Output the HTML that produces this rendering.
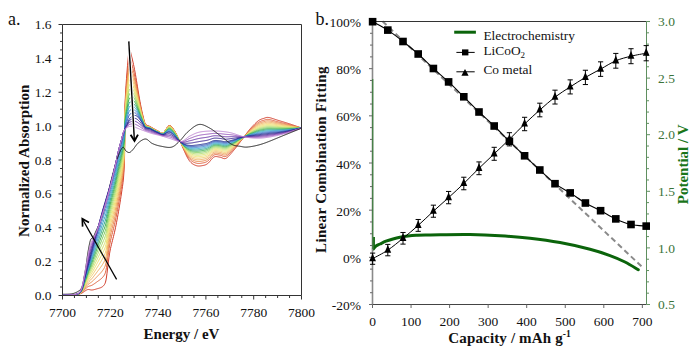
<!DOCTYPE html><html><head><meta charset="utf-8"><style>html,body{margin:0;padding:0;background:#fff;width:700px;height:359px;overflow:hidden}svg{display:block}text{font-family:"Liberation Serif",serif}</style></head><body>
<svg width="700" height="359" viewBox="0 0 700 359">
<rect width="700" height="359" fill="#fff"/>
<g fill="none" stroke-width="1" stroke-linejoin="round">
<path d="M62.5,294.3 62.78,294.29 63.11,294.28 63.5,294.27 63.93,294.27 64.39,294.26 64.89,294.26 65.42,294.25 65.97,294.24 66.54,294.23 67.12,294.22 67.71,294.2 68.3,294.17 68.88,294.14 69.46,294.11 70.02,294.06 70.56,294.01 71.07,293.95 71.55,293.88 72,293.8 72.55,293.68 73.1,293.54 73.63,293.39 74.14,293.23 74.65,293.06 75.14,292.88 75.62,292.68 76.08,292.48 76.53,292.27 76.96,292.05 77.38,291.82 77.78,291.59 78.16,291.36 78.53,291.12 78.93,290.84 79.36,290.53 79.74,290.24 80.09,289.95 80.4,289.64 80.7,289.31 80.97,288.94 81.23,288.52 81.48,288.03 81.74,287.46 82,286.8 82.13,286.44 82.25,286.06 82.37,285.66 82.49,285.23 82.6,284.78 82.72,284.31 82.83,283.82 82.94,283.33 83.04,282.81 83.15,282.29 83.25,281.76 83.35,281.23 83.45,280.69 83.55,280.15 83.65,279.6 83.74,279.07 83.84,278.53 83.93,278 84.02,277.49 84.12,276.98 84.21,276.48 84.3,276 84.4,275.49 84.49,274.99 84.58,274.49 84.67,274.01 84.76,273.54 84.84,273.07 84.93,272.6 85.01,272.13 85.09,271.67 85.17,271.2 85.25,270.73 85.33,270.25 85.41,269.76 85.49,269.27 85.57,268.76 85.65,268.24 85.73,267.71 85.82,267.16 85.91,266.59 86,266 86.07,265.57 86.13,265.12 86.2,264.66 86.27,264.19 86.33,263.71 86.4,263.23 86.47,262.73 86.53,262.23 86.6,261.73 86.67,261.21 86.74,260.7 86.81,260.17 86.88,259.65 86.95,259.12 87.02,258.6 87.09,258.07 87.16,257.54 87.24,257.02 87.31,256.49 87.38,255.97 87.46,255.45 87.53,254.94 87.61,254.43 87.69,253.93 87.76,253.44 87.84,252.95 87.92,252.47 88,252 88.09,251.46 88.19,250.92 88.28,250.37 88.38,249.82 88.48,249.26 88.58,248.7 88.68,248.15 88.78,247.59 88.88,247.04 88.98,246.49 89.09,245.94 89.19,245.41 89.3,244.88 89.4,244.37 89.51,243.86 89.61,243.37 89.72,242.9 89.82,242.44 89.93,242.01 90.03,241.59 90.14,241.19 90.24,240.82 90.35,240.47 90.45,240.15 90.69,239.51 91.07,238.88 91.44,238.57 91.81,238.44 92.19,238.33 92.59,238.1 93,237.6 93.19,237.27 93.38,236.93 93.56,236.58 93.74,236.21 93.92,235.82 94.1,235.4 94.29,234.96 94.49,234.5 94.7,234 94.92,233.47 95.16,232.91 95.42,232.32 95.7,231.68 96,231 96.16,230.64 96.33,230.27 96.51,229.89 96.7,229.5 96.89,229.09 97.09,228.67 97.29,228.25 97.5,227.81 97.71,227.37 97.93,226.91 98.15,226.45 98.37,225.98 98.6,225.51 98.82,225.03 99.05,224.54 99.28,224.05 99.51,223.55 99.73,223.05 99.96,222.55 100.18,222.05 100.4,221.54 100.61,221.03 100.82,220.53 101.03,220.02 101.23,219.51 101.43,219.01 101.62,218.5 101.8,218 101.96,217.55 102.11,217.1 102.27,216.66 102.41,216.21 102.56,215.77 102.7,215.33 102.84,214.89 102.98,214.44 103.11,214 103.25,213.56 103.38,213.11 103.51,212.66 103.63,212.21 103.76,211.75 103.89,211.29 104.01,210.83 104.14,210.36 104.26,209.89 104.39,209.41 104.52,208.92 104.64,208.43 104.77,207.93 104.9,207.42 105.03,206.9 105.16,206.37 105.29,205.84 105.43,205.29 105.57,204.74 105.71,204.17 105.85,203.59 106,203 106.1,202.59 106.21,202.16 106.31,201.73 106.41,201.3 106.52,200.86 106.62,200.41 106.73,199.96 106.83,199.5 106.94,199.03 107.04,198.56 107.15,198.09 107.26,197.61 107.36,197.13 107.47,196.64 107.58,196.15 107.69,195.65 107.79,195.16 107.9,194.66 108.01,194.15 108.12,193.65 108.23,193.14 108.34,192.63 108.46,192.12 108.57,191.61 108.68,191.09 108.79,190.58 108.9,190.06 109.02,189.55 109.13,189.03 109.24,188.52 109.36,188 109.47,187.49 109.59,186.98 109.7,186.47 109.82,185.96 109.94,185.45 110.05,184.94 110.17,184.44 110.29,183.94 110.4,183.44 110.52,182.94 110.64,182.45 110.76,181.96 110.88,181.48 111,181 111.12,180.5 111.25,180 111.38,179.5 111.5,179 111.63,178.49 111.76,177.98 111.89,177.47 112.02,176.96 112.15,176.44 112.28,175.93 112.41,175.41 112.55,174.9 112.68,174.38 112.81,173.87 112.95,173.35 113.08,172.83 113.22,172.32 113.35,171.81 113.49,171.3 113.62,170.79 113.76,170.28 113.9,169.77 114.03,169.27 114.17,168.77 114.31,168.28 114.44,167.78 114.58,167.29 114.72,166.81 114.85,166.33 114.99,165.85 115.12,165.38 115.26,164.91 115.4,164.45 115.53,163.99 115.67,163.54 115.8,163.1 115.94,162.66 116.07,162.23 116.2,161.81 116.34,161.39 116.47,160.99 116.6,160.59 116.73,160.19 116.91,159.69 117.12,159.07 117.33,158.46 117.55,157.85 117.77,157.25 117.99,156.66 118.21,156.07 118.43,155.49 118.65,154.92 118.87,154.37" stroke="#1a1a1a" stroke-width="1"/>
<path d="M62.5,295.3 63,295.29 63.5,295.27 64,295.26 64.5,295.25 65,295.23 65.5,295.22 66,295.21 66.5,295.19 67,295.18 67.5,295.16 68,295.15 68.5,295.13 69,295.12 69.5,295.1 70,295.08 70.5,295.07 71,295.05 71.5,295.02 72,295 72.5,294.97 73,294.95 73.5,294.93 74,294.9 74.5,294.88 75,294.85 75.5,294.81 76,294.77 76.5,294.73 77,294.66 77.5,294.59 78,294.5 78.5,294.39 79,294.26 79.5,294.1 80,293.92 80.5,293.71 81,293.49 81.5,293.25 82,293 82.5,292.72 83,292.4 83.5,292.05 84,291.68 84.5,291.32 85,291 85.5,290.69 86,290.37 86.5,290.06 87,289.8 87.5,289.61 88,289.5 88.5,289.48 89,289.54 89.5,289.64 90,289.76 90.5,289.87 91,289.96 91.5,290.01 92,290 92.5,289.95 93,289.87 93.5,289.77 94,289.65 94.5,289.53 95,289.39 95.5,289.25 96,289.1 96.5,288.95 97,288.8 97.5,288.65 98,288.51 98.5,288.38 99,288.23 99.5,288.08 100,287.92 100.5,287.74 101,287.54 101.5,287.29 102,287 102.5,286.65 103,286.25 103.5,285.78 104,285.2 104.5,284.47 105,283.5 105.5,282.15 106,279.99 106.5,277 107,273.3 107.5,268.98 108,265 108.5,261.09 109,257.21 109.5,253.87 110,251.03 110.5,248.56 111,246.36 111.5,244.29 112,242.28 112.5,240.31 113,238.35 113.5,236.36 114,234.34 114.5,232.23 115,230 115.5,227.63 116,225.16 116.5,222.61 117,219.98 117.5,217.28 118,214.51 118.5,211.7 119,208.85 119.5,205.91 120,202.84 120.5,199.66 121,196.37 121.5,193 122,189.66 122.5,186.3 123,182.62 123.5,178 124,170.97 124.5,160 125,105 125.5,94.07 126,85.78 126.5,78.53 127,72 127.5,65.78 128,59.9 128.5,54.93 129,51.39 129.5,49.8 130,50.12 130.5,51.79 131,53.96 131.5,56 132,57.92 132.5,59.97 133,62.14 133.5,64.44 134,66.85 134.5,69.37 135,72 135.5,74.78 136,77.7 136.5,80.71 137,83.77 137.5,86.85 138,89.93 138.5,92.99 139,95.98 139.5,98.88 140,101.64 140.5,104.29 141,106.85 141.5,109.31 142,111.65 142.5,113.88 143,116 143.5,118.12 144,120.19 144.5,121.9 145,123.12 145.5,124 146,124.62 146.5,125.03 147,125.31 147.5,125.5 148,125.67 148.5,125.83 149,126.02 149.5,126.24 150,126.5 150.5,126.78 151,127.07 151.5,127.36 152,127.64 152.5,127.93 153,128.22 153.5,128.51 154,128.8 154.5,129.09 155,129.37 155.5,129.65 156,129.93 156.5,130.21 157,130.48 157.5,130.74 158,131 158.5,131.27 159,131.59 159.5,131.94 160,132.31 160.5,132.67 161,132.96 161.5,133.16 162,133.24 162.5,133.18 163,133 163.5,132.65 164,132.13 164.5,131.5 165,130.79 165.5,130.02 166,129.24 166.5,128.46 167,127.71 167.5,127.01 168,126.41 168.5,125.93 169,125.63 169.5,125.53 170,125.58 170.5,125.76 171,126.1 171.5,126.57 172,127.15 172.5,127.81 173,128.53 173.5,129.27 174,130 174.5,130.76 175,131.57 175.5,132.44 176,133.36 176.5,134.31 177,135.29 177.5,136.3 178,137.31 178.5,138.34 179,139.36 179.5,140.38 180,141.4 180.5,142.44 181,143.52 181.5,144.63 182,145.77 182.5,146.91 183,148.06 183.5,149.2 184,150.35 184.5,151.48 185,152.59 185.5,153.69 186,154.76 186.5,155.8 187,156.79 187.5,157.74 188,158.63 188.5,159.45 189,160.19 189.5,160.87 190,161.49 190.5,162.05 191,162.56 191.5,163.02 192,163.43 192.5,163.8 193,164.12 193.5,164.41 194,164.67 194.5,164.91 195,165.13 195.5,165.34 196,165.54 196.5,165.71 197,165.84 197.5,165.93 198,165.99 198.5,166.02 199,166.03 199.5,166.01 200,165.97 200.5,165.92 201,165.85 201.5,165.77 202,165.68 202.5,165.59 203,165.5 203.5,165.4 204,165.29 204.5,165.17 205,165.01 205.5,164.82 206,164.59 206.5,164.33 207,164.02 207.5,163.67 208,163.3 208.5,162.86 209,162.35 209.5,161.77 210,161.17 210.5,160.54 211,159.91 211.5,159.3 212,158.72 212.5,158.18 213,157.71 213.5,157.31 214,157 214.5,156.79 215,156.65 215.5,156.57 216,156.55 216.5,156.57 217,156.63 217.5,156.71 218,156.81 218.5,156.92 219,157.02 219.5,157.11 220,157.19 220.5,157.27 221,157.42 221.5,157.61 222,157.85 222.5,158.09 223,158.31 223.5,158.49 224,158.62 224.5,158.67 225,158.63 225.5,158.51 226,158.3 226.5,158 227,157.64 227.5,157.22 228,156.77 228.5,156.29 229,155.77 229.5,155.24 230,154.69 230.5,154.12 231,153.54 231.5,152.96 232,152.36 232.5,151.76 233,151.17 233.5,150.58 234,150 234.5,149.42 235,148.82 235.5,148.2 236,147.55 236.5,146.89 237,146.21 237.5,145.52 238,144.84 238.5,144.16 239,143.5 239.5,142.85 240,142.2 240.5,141.56 241,140.91 241.5,140.26 242,139.61 242.5,138.96 243,138.31 243.5,137.66 244,137 244.5,136.33 245,135.64 245.5,134.94 246,134.24 246.5,133.53 247,132.83 247.5,132.15 248,131.48 248.5,130.82 249,130.19 249.5,129.58 250,129 250.5,128.43 251,127.87 251.5,127.32 252,126.77 252.5,126.24 253,125.71 253.5,125.18 254,124.67 254.5,124.16 255,123.67 255.5,123.19 256,122.71 256.5,122.26 257,121.82 257.5,121.4 258,121 258.5,120.64 259,120.3 259.5,120 260,119.73 260.5,119.49 261,119.28 261.5,119.09 262,118.92 262.5,118.76 263,118.61 263.5,118.46 264,118.3 264.5,118.13 265,117.94 265.5,117.76 266,117.6 266.5,117.48 267,117.42 267.5,117.4 268,117.42 268.5,117.47 269,117.55 269.5,117.64 270,117.76 270.5,117.89 271,118.03 271.5,118.18 272,118.33 272.5,118.49 273,118.65 273.5,118.82 274,118.99 274.5,119.16 275,119.33 275.5,119.49 276,119.66 276.5,119.82 277,119.99 277.5,120.15 278,120.3 278.5,120.45 279,120.6 279.5,120.76 280,120.91 280.5,121.06 281,121.21 281.5,121.36 282,121.51 282.5,121.66 283,121.81 283.5,121.96 284,122.12 284.5,122.27 285,122.42 285.5,122.58 286,122.73 286.5,122.89 287,123.04 287.5,123.2 288,123.36 288.5,123.52 289,123.68 289.5,123.84 290,124 290.5,124.16 291,124.33 291.5,124.5 292,124.67 292.5,124.84 293,125.01 293.5,125.18 294,125.36 294.5,125.53 295,125.7 295.5,125.88 296,126.06 296.5,126.23 297,126.41 297.5,126.58 298,126.76 298.5,126.94 299,127.12 299.5,127.29 300,127.47 300.5,127.65 301,127.82 301.5,128" stroke="#d23c2a"/>
<path d="M62.5,295.3 63,295.28 63.5,295.27 64,295.26 64.5,295.24 65,295.23 65.5,295.22 66,295.2 66.5,295.19 67,295.18 67.5,295.16 68,295.15 68.5,295.13 69,295.11 69.5,295.1 70,295.08 70.5,295.06 71,295.04 71.5,295.01 72,294.99 72.5,294.96 73,294.93 73.5,294.91 74,294.88 74.5,294.85 75,294.81 75.5,294.77 76,294.73 76.5,294.67 77,294.6 77.5,294.52 78,294.42 78.5,294.29 79,294.14 79.5,293.95 80,293.73 80.5,293.48 81,293.19 81.5,292.86 82,292.49 82.5,292.06 83,291.57 83.5,291.01 84,290.41 84.5,289.83 85,289.3 85.5,288.8 86,288.28 86.5,287.78 87,287.32 87.5,286.93 88,286.6 88.5,286.36 89,286.18 89.5,286.04 90,285.92 90.5,285.78 91,285.63 91.5,285.44 92,285.2 92.5,284.93 93,284.63 93.5,284.31 94,283.98 94.5,283.64 95,283.29 95.5,282.93 96,282.57 96.5,282.21 97,281.85 97.5,281.49 98,281.14 98.5,280.78 99,280.43 99.5,280.07 100,279.7 100.5,279.31 101,278.9 101.5,278.47 102,277.99 102.5,277.46 103,276.9 103.5,276.27 104,275.56 104.5,274.72 105,273.67 105.5,272.28 106,270.18 106.5,267.35 107,263.9 107.5,259.9 108,256.2 108.5,252.57 109,248.95 109.5,245.8 110,243.1 110.5,240.72 111,238.57 111.5,236.52 112,234.53 112.5,232.56 113,230.59 113.5,228.6 114,226.57 114.5,224.47 115,222.25 115.5,219.9 116,217.47 116.5,214.95 117,212.36 117.5,209.71 118,207.01 118.5,204.28 119,201.53 119.5,198.72 120,195.81 120.5,192.81 121,189.71 121.5,186.54 122,183.37 122.5,180.17 123,176.71 123.5,172.46 124,166.13 124.5,156.4 125,107.88 125.5,98.14 126,90.72 126.5,84.2 127,78.33 127.5,72.71 128,67.4 128.5,62.89 129,59.65 129.5,58.14 130,58.34 130.5,59.76 131,61.62 131.5,63.37 132,65.03 132.5,66.82 133,68.69 133.5,70.66 134,72.75 134.5,74.95 135,77.26 135.5,79.71 136,82.3 136.5,84.97 137,87.7 137.5,90.46 138,93.23 138.5,95.98 139,98.69 139.5,101.32 140,103.82 140.5,106.24 141,108.58 141.5,110.83 142,112.99 142.5,115.04 143,116.99 143.5,118.95 144,120.88 144.5,122.47 145,123.61 145.5,124.43 146,125.01 146.5,125.4 147,125.66 147.5,125.84 148,125.99 148.5,126.15 149,126.32 149.5,126.53 150,126.77 150.5,127.05 151,127.34 151.5,127.62 152,127.91 152.5,128.19 153,128.48 153.5,128.76 154,129.05 154.5,129.33 155,129.61 155.5,129.89 156,130.16 156.5,130.4 157,130.64 157.5,130.88 158,131.12 158.5,131.37 159,131.68 159.5,132.01 160,132.37 160.5,132.71 161,133 161.5,133.2 162,133.27 162.5,133.22 163,133.03 163.5,132.69 164,132.17 164.5,131.54 165,130.83 165.5,130.07 166,129.29 166.5,128.52 167,127.77 167.5,127.08 168,126.48 168.5,126 169,125.71 169.5,125.61 170,125.66 170.5,125.85 171,126.18 171.5,126.65 172,127.23 172.5,127.9 173,128.62 173.5,129.36 174,130.1 174.5,130.86 175,131.68 175.5,132.55 176,133.47 176.5,134.42 177,135.4 177.5,136.4 178,137.41 178.5,138.42 179,139.42 179.5,140.42 180,141.41 180.5,142.4 181,143.41 181.5,144.43 182,145.43 182.5,146.48 183,147.52 183.5,148.56 184,149.59 184.5,150.61 185,151.6 185.5,152.59 186,153.54 186.5,154.47 187,155.36 187.5,156.21 188,157 188.5,157.73 189,158.39 189.5,158.99 190,159.54 190.5,160.05 191,160.5 191.5,160.9 192,161.26 192.5,161.58 193,161.86 193.5,162.11 194,162.33 194.5,162.53 195,162.72 195.5,162.9 196,163.07 196.5,163.21 197,163.32 197.5,163.39 198,163.44 198.5,163.45 199,163.45 199.5,163.42 200,163.38 200.5,163.33 201,163.26 201.5,163.18 202,163.09 202.5,163 203,162.91 203.5,162.81 204,162.71 204.5,162.59 205,162.44 205.5,162.26 206,162.05 206.5,161.8 207,161.51 207.5,161.19 208,160.84 208.5,160.44 209,159.96 209.5,159.43 210,158.87 210.5,158.29 211,157.71 211.5,157.14 212,156.6 212.5,156.11 213,155.67 213.5,155.3 214,155.02 214.5,154.82 215,154.69 215.5,154.62 216,154.61 216.5,154.63 217,154.68 217.5,154.76 218,154.85 218.5,154.95 219,155.05 219.5,155.14 220,155.21 220.5,155.29 221,155.43 221.5,155.61 222,155.83 222.5,156.06 223,156.27 223.5,156.44 224,156.56 224.5,156.61 225,156.58 225.5,156.48 226,156.29 226.5,156.02 227,155.69 227.5,155.31 228,154.9 228.5,154.46 229,153.99 229.5,153.51 230,153 230.5,152.49 231,151.96 231.5,151.43 232,150.89 232.5,150.35 233,149.81 233.5,149.28 234,148.75 234.5,148.23 235,147.69 235.5,147.12 236,146.53 236.5,145.92 237,145.3 237.5,144.67 238,144.04 238.5,143.43 239,142.83 239.5,142.24 240,141.66 240.5,141.07 241,140.49 241.5,139.91 242,139.33 242.5,138.74 243,138.16 243.5,137.57 244,136.98 244.5,136.38 245,135.77 245.5,135.14 246,134.51 246.5,133.88 247,133.26 247.5,132.65 248,132.06 248.5,131.47 249,130.91 249.5,130.37 250,129.85 250.5,129.34 251,128.84 251.5,128.35 252,127.86 252.5,127.38 253,126.9 253.5,126.43 254,125.97 254.5,125.52 255,125.08 255.5,124.64 256,124.22 256.5,123.81 257,123.41 257.5,123.03 258,122.68 258.5,122.35 259,122.05 259.5,121.77 260,121.53 260.5,121.31 261,121.12 261.5,120.94 262,120.78 262.5,120.64 263,120.5 263.5,120.36 264,120.21 264.5,120.05 265,119.88 265.5,119.71 266,119.55 266.5,119.44 267,119.38 267.5,119.36 268,119.37 268.5,119.41 269,119.47 269.5,119.55 270,119.65 270.5,119.75 271,119.87 271.5,120 272,120.13 272.5,120.26 273,120.4 273.5,120.54 274,120.68 274.5,120.83 275,120.97 275.5,121.11 276,121.25 276.5,121.39 277,121.52 277.5,121.66 278,121.79 278.5,121.91 279,122.04 279.5,122.16 280,122.29 280.5,122.41 281,122.54 281.5,122.66 282,122.79 282.5,122.91 283,123.03 283.5,123.16 284,123.28 284.5,123.41 285,123.53 285.5,123.66 286,123.78 286.5,123.91 287,124.03 287.5,124.16 288,124.29 288.5,124.42 289,124.54 289.5,124.67 290,124.8 290.5,124.94 291,125.07 291.5,125.2 292,125.34 292.5,125.48 293,125.61 293.5,125.75 294,125.89 294.5,126.03 295,126.17 295.5,126.31 296,126.45 296.5,126.59 297,126.73 297.5,126.87 298,127.01 298.5,127.15 299,127.29 299.5,127.44 300,127.58 300.5,127.72 301,127.86 301.5,128" stroke="#e0603c"/>
<path d="M62.5,295.3 63,295.28 63.5,295.27 64,295.26 64.5,295.24 65,295.23 65.5,295.22 66,295.2 66.5,295.19 67,295.17 67.5,295.16 68,295.14 68.5,295.13 69,295.11 69.5,295.09 70,295.07 70.5,295.05 71,295.03 71.5,295.01 72,294.98 72.5,294.95 73,294.92 73.5,294.89 74,294.86 74.5,294.82 75,294.79 75.5,294.74 76,294.69 76.5,294.63 77,294.56 77.5,294.46 78,294.35 78.5,294.21 79,294.05 79.5,293.85 80,293.6 80.5,293.3 81,292.96 81.5,292.57 82,292.11 82.5,291.57 83,290.95 83.5,290.25 84,289.47 84.5,288.73 85,288.05 85.5,287.39 86,286.73 86.5,286.09 87,285.49 87.5,284.94 88,284.45 88.5,284.04 89,283.69 89.5,283.37 90,283.07 90.5,282.75 91,282.42 91.5,282.06 92,281.65 92.5,281.21 93,280.74 93.5,280.27 94,279.78 94.5,279.28 95,278.77 95.5,278.25 96,277.74 96.5,277.22 97,276.69 97.5,276.18 98,275.67 98.5,275.16 99,274.64 99.5,274.13 100,273.6 100.5,273.06 101,272.51 101.5,271.93 102,271.31 102.5,270.65 103,269.96 103.5,269.23 104,268.42 104.5,267.49 105,266.39 105.5,264.97 106,262.92 106.5,260.2 107,256.93 107.5,253.17 108,249.68 108.5,246.25 109,242.83 109.5,239.83 110,237.22 110.5,234.91 111,232.79 111.5,230.76 112,228.78 112.5,226.81 113,224.84 113.5,222.85 114,220.81 114.5,218.71 115,216.51 115.5,214.18 116,211.77 116.5,209.27 117,206.71 117.5,204.1 118,201.45 118.5,198.78 119,196.11 119.5,193.39 120,190.6 120.5,187.73 121,184.78 121.5,181.75 122,178.71 122.5,175.63 123,172.33 123.5,168.35 124,162.54 124.5,153.74 125,110.02 125.5,101.15 126,94.38 126.5,88.41 127,83.01 127.5,77.85 128,72.96 128.5,68.79 129,65.76 129.5,64.32 130,64.44 130.5,65.65 131,67.29 131.5,68.84 132,70.3 132.5,71.89 133,73.54 133.5,75.27 134,77.12 134.5,79.08 135,81.15 135.5,83.36 136,85.7 136.5,88.13 137,90.62 137.5,93.13 138,95.67 138.5,98.2 139,100.7 139.5,103.12 140,105.44 140.5,107.68 141,109.86 141.5,111.96 142,113.98 142.5,115.89 143,117.73 143.5,119.57 144,121.39 144.5,122.89 145,123.98 145.5,124.76 146,125.31 146.5,125.67 147,125.92 147.5,126.09 148,126.24 148.5,126.38 149,126.55 149.5,126.74 150,126.97 150.5,127.25 151,127.53 151.5,127.82 152,128.1 152.5,128.39 153,128.67 153.5,128.95 154,129.23 154.5,129.51 155,129.78 155.5,130.06 156,130.33 156.5,130.56 157,130.79 157.5,131.01 158,131.24 158.5,131.48 159,131.77 159.5,132.1 160,132.45 160.5,132.78 161,133.06 161.5,133.26 162,133.33 162.5,133.27 163,133.09 163.5,132.75 164,132.25 164.5,131.63 165,130.93 165.5,130.18 166,129.41 166.5,128.64 167,127.9 167.5,127.22 168,126.63 168.5,126.16 169,125.88 169.5,125.78 170,125.83 170.5,126.02 171,126.36 171.5,126.83 172,127.42 172.5,128.08 173,128.8 173.5,129.54 174,130.28 174.5,131.04 175,131.85 175.5,132.72 176,133.64 176.5,134.58 177,135.55 177.5,136.54 178,137.53 178.5,138.52 179,139.5 179.5,140.47 180,141.41 180.5,142.36 181,143.31 181.5,144.26 182,145.19 182.5,146.16 183,147.12 183.5,148.08 184,149.03 184.5,149.96 185,150.87 185.5,151.77 186,152.64 186.5,153.49 187,154.3 187.5,155.07 188,155.79 188.5,156.45 189,157.05 189.5,157.6 190,158.1 190.5,158.56 191,158.97 191.5,159.33 192,159.65 192.5,159.94 193,160.18 193.5,160.4 194,160.6 194.5,160.77 195,160.93 195.5,161.09 196,161.24 196.5,161.36 197,161.45 197.5,161.51 198,161.54 198.5,161.55 199,161.54 199.5,161.51 200,161.46 200.5,161.4 201,161.33 201.5,161.25 202,161.17 202.5,161.08 203,160.99 203.5,160.9 204,160.79 204.5,160.68 205,160.54 205.5,160.37 206,160.16 206.5,159.93 207,159.65 207.5,159.35 208,159.02 208.5,158.64 209,158.19 209.5,157.69 210,157.16 210.5,156.62 211,156.07 211.5,155.54 212,155.04 212.5,154.57 213,154.16 213.5,153.81 214,153.54 214.5,153.36 215,153.24 215.5,153.18 216,153.16 216.5,153.18 217,153.23 217.5,153.31 218,153.4 218.5,153.49 219,153.59 219.5,153.67 220,153.74 220.5,153.82 221,153.95 221.5,154.13 222,154.34 222.5,154.55 223,154.75 223.5,154.92 224,155.03 224.5,155.08 225,155.06 225.5,154.97 226,154.79 226.5,154.55 227,154.24 227.5,153.89 228,153.51 228.5,153.1 229,152.67 229.5,152.22 230,151.75 230.5,151.28 231,150.79 231.5,150.3 232,149.8 232.5,149.3 233,148.8 233.5,148.31 234,147.83 234.5,147.35 235,146.85 235.5,146.32 236,145.77 236.5,145.2 237,144.62 237.5,144.04 238,143.46 238.5,142.89 239,142.33 239.5,141.79 240,141.25 240.5,140.72 241,140.18 241.5,139.65 242,139.11 242.5,138.58 243,138.05 243.5,137.51 244,136.97 244.5,136.42 245,135.86 245.5,135.29 246,134.71 246.5,134.14 247,133.58 247.5,133.03 248,132.49 248.5,131.96 249,131.44 249.5,130.95 250,130.47 250.5,130.01 251,129.56 251.5,129.11 252,128.66 252.5,128.22 253,127.79 253.5,127.36 254,126.94 254.5,126.53 255,126.12 255.5,125.72 256,125.33 256.5,124.96 257,124.59 257.5,124.25 258,123.92 258.5,123.61 259,123.34 259.5,123.09 260,122.86 260.5,122.66 261,122.48 261.5,122.32 262,122.17 262.5,122.03 263,121.9 263.5,121.77 264,121.63 264.5,121.48 265,121.31 265.5,121.15 266,121.01 266.5,120.9 267,120.83 267.5,120.81 268,120.82 268.5,120.85 269,120.89 269.5,120.96 270,121.04 270.5,121.14 271,121.24 271.5,121.34 272,121.46 272.5,121.58 273,121.69 273.5,121.82 274,121.94 274.5,122.06 275,122.19 275.5,122.31 276,122.43 276.5,122.55 277,122.66 277.5,122.78 278,122.89 278.5,122.99 279,123.1 279.5,123.21 280,123.31 280.5,123.42 281,123.52 281.5,123.63 282,123.73 282.5,123.84 283,123.94 283.5,124.04 284,124.15 284.5,124.25 285,124.36 285.5,124.46 286,124.56 286.5,124.67 287,124.77 287.5,124.87 288,124.98 288.5,125.08 289,125.19 289.5,125.29 290,125.4 290.5,125.51 291,125.62 291.5,125.73 292,125.84 292.5,125.95 293,126.06 293.5,126.17 294,126.29 294.5,126.4 295,126.51 295.5,126.63 296,126.74 296.5,126.85 297,126.97 297.5,127.08 298,127.2 298.5,127.31 299,127.43 299.5,127.54 300,127.66 300.5,127.77 301,127.89 301.5,128" stroke="#ea8a4c"/>
<path d="M62.5,295.3 63,295.28 63.5,295.27 64,295.26 64.5,295.24 65,295.23 65.5,295.22 66,295.2 66.5,295.19 67,295.17 67.5,295.16 68,295.14 68.5,295.13 69,295.11 69.5,295.09 70,295.07 70.5,295.05 71,295.03 71.5,295 72,294.97 72.5,294.94 73,294.91 73.5,294.87 74,294.84 74.5,294.8 75,294.76 75.5,294.72 76,294.66 76.5,294.6 77,294.52 77.5,294.42 78,294.3 78.5,294.15 79,293.97 79.5,293.75 80,293.48 80.5,293.15 81,292.76 81.5,292.31 82,291.77 82.5,291.12 83,290.39 83.5,289.56 84,288.63 84.5,287.74 85,286.92 85.5,286.13 86,285.34 86.5,284.57 87,283.83 87.5,283.15 88,282.52 88.5,281.96 89,281.45 89.5,280.97 90,280.5 90.5,280.02 91,279.53 91.5,279.01 92,278.45 92.5,277.86 93,277.25 93.5,276.63 94,275.99 94.5,275.35 95,274.7 95.5,274.04 96,273.38 96.5,272.72 97,272.06 97.5,271.4 98,270.74 98.5,270.09 99,269.44 99.5,268.78 100,268.11 100.5,267.44 101,266.75 101.5,266.04 102,265.29 102.5,264.52 103,263.72 103.5,262.89 104,261.99 104.5,260.99 105,259.83 105.5,258.39 106,256.37 106.5,253.77 107,250.66 107.5,247.12 108,243.81 108.5,240.56 109,237.32 109.5,234.45 110,231.94 110.5,229.68 111,227.59 111.5,225.58 112,223.61 112.5,221.64 113,219.67 113.5,217.67 114,215.63 114.5,213.53 115,211.34 115.5,209.03 116,206.63 116.5,204.16 117,201.63 117.5,199.05 118,196.44 118.5,193.83 119,191.23 119.5,188.6 120,185.91 120.5,183.16 121,180.34 121.5,177.44 122,174.51 122.5,171.54 123,168.38 123.5,164.65 124,159.32 124.5,151.34 125,111.94 125.5,103.87 126,97.67 126.5,92.2 127,87.23 127.5,82.48 128,77.96 128.5,74.1 129,71.27 129.5,69.88 130,69.92 130.5,70.97 131,72.4 131.5,73.76 132,75.05 132.5,76.46 133,77.91 133.5,79.42 134,81.06 134.5,82.8 135,84.66 135.5,86.65 136,88.77 136.5,90.98 137,93.24 137.5,95.54 138,97.87 138.5,100.2 139,102.5 139.5,104.75 140,106.89 140.5,108.98 141,111.02 141.5,112.98 142,114.86 142.5,116.66 143,118.39 143.5,120.13 144,121.85 144.5,123.27 145,124.3 145.5,125.04 146,125.57 146.5,125.92 147,126.15 147.5,126.31 148,126.45 148.5,126.59 149,126.75 149.5,126.93 150,127.15 150.5,127.43 151,127.71 151.5,127.99 152,128.28 152.5,128.56 153,128.84 153.5,129.12 154,129.4 154.5,129.67 155,129.94 155.5,130.21 156,130.48 156.5,130.7 157,130.92 157.5,131.14 158,131.36 158.5,131.6 159,131.88 159.5,132.19 160,132.53 160.5,132.86 161,133.13 161.5,133.32 162,133.4 162.5,133.34 163,133.17 163.5,132.83 164,132.34 164.5,131.74 165,131.05 165.5,130.32 166,129.56 166.5,128.81 167,128.09 167.5,127.43 168,126.85 168.5,126.39 169,126.12 169.5,126.03 170,126.08 170.5,126.28 171,126.62 171.5,127.09 172,127.67 172.5,128.33 173,129.05 173.5,129.78 174,130.52 174.5,131.27 175,132.08 175.5,132.95 176,133.85 176.5,134.78 177,135.73 177.5,136.7 178,137.67 178.5,138.63 179,139.58 179.5,140.51 180,141.42 180.5,142.32 181,143.22 181.5,144.11 182,144.97 182.5,145.87 183,146.76 183.5,147.65 184,148.52 184.5,149.38 185,150.21 185.5,151.03 186,151.83 186.5,152.61 187,153.35 187.5,154.05 188,154.7 188.5,155.31 189,155.85 189.5,156.35 190,156.81 190.5,157.22 191,157.59 191.5,157.92 192,158.21 192.5,158.46 193,158.68 193.5,158.87 194,159.04 194.5,159.19 195,159.33 195.5,159.46 196,159.59 196.5,159.7 197,159.77 197.5,159.82 198,159.84 198.5,159.84 199,159.82 199.5,159.78 200,159.73 200.5,159.67 201,159.6 201.5,159.52 202,159.43 202.5,159.35 203,159.26 203.5,159.17 204,159.07 204.5,158.96 205,158.82 205.5,158.66 206,158.47 206.5,158.24 207,157.98 207.5,157.7 208,157.39 208.5,157.02 209,156.6 209.5,156.13 210,155.63 210.5,155.12 211,154.6 211.5,154.1 212,153.63 212.5,153.19 213,152.8 213.5,152.47 214,152.22 214.5,152.05 215,151.94 215.5,151.88 216,151.86 216.5,151.88 217,151.93 217.5,152 218,152.09 218.5,152.18 219,152.27 219.5,152.35 220,152.42 220.5,152.49 221,152.62 221.5,152.79 222,152.99 222.5,153.2 223,153.39 223.5,153.55 224,153.66 224.5,153.71 225,153.7 225.5,153.61 226,153.45 226.5,153.22 227,152.94 227.5,152.62 228,152.26 228.5,151.88 229,151.48 229.5,151.06 230,150.63 230.5,150.19 231,149.74 231.5,149.28 232,148.82 232.5,148.36 233,147.9 233.5,147.44 234,147 234.5,146.56 235,146.1 235.5,145.6 236,145.08 236.5,144.55 237,144.01 237.5,143.47 238,142.93 238.5,142.4 239,141.89 239.5,141.39 240,140.89 240.5,140.4 241,139.9 241.5,139.41 242,138.92 242.5,138.43 243,137.94 243.5,137.45 244,136.96 244.5,136.46 245,135.94 245.5,135.42 246,134.9 246.5,134.38 247,133.86 247.5,133.36 248,132.87 248.5,132.39 249,131.92 249.5,131.47 250,131.04 250.5,130.62 251,130.2 251.5,129.79 252,129.39 252.5,128.98 253,128.59 253.5,128.2 254,127.81 254.5,127.43 255,127.06 255.5,126.69 256,126.34 256.5,125.99 257,125.66 257.5,125.34 258,125.04 258.5,124.76 259,124.5 259.5,124.27 260,124.06 260.5,123.87 261,123.7 261.5,123.55 262,123.41 262.5,123.28 263,123.16 263.5,123.03 264,122.9 264.5,122.76 265,122.6 265.5,122.45 266,122.31 266.5,122.21 267,122.14 267.5,122.12 268,122.12 268.5,122.14 269,122.18 269.5,122.23 270,122.3 270.5,122.38 271,122.47 271.5,122.56 272,122.66 272.5,122.76 273,122.86 273.5,122.96 274,123.07 274.5,123.18 275,123.28 275.5,123.39 276,123.49 276.5,123.59 277,123.69 277.5,123.78 278,123.88 278.5,123.97 279,124.06 279.5,124.14 280,124.23 280.5,124.32 281,124.41 281.5,124.5 282,124.58 282.5,124.67 283,124.76 283.5,124.84 284,124.93 284.5,125.01 285,125.1 285.5,125.18 286,125.27 286.5,125.35 287,125.43 287.5,125.52 288,125.6 288.5,125.68 289,125.77 289.5,125.85 290,125.94 290.5,126.02 291,126.11 291.5,126.2 292,126.29 292.5,126.37 293,126.46 293.5,126.55 294,126.64 294.5,126.73 295,126.82 295.5,126.91 296,127 296.5,127.09 297,127.18 297.5,127.27 298,127.36 298.5,127.45 299,127.54 299.5,127.63 300,127.73 300.5,127.82 301,127.91 301.5,128" stroke="#f0ad5c"/>
<path d="M62.5,295.3 63,295.28 63.5,295.27 64,295.26 64.5,295.24 65,295.23 65.5,295.22 66,295.2 66.5,295.19 67,295.17 67.5,295.16 68,295.14 68.5,295.12 69,295.11 69.5,295.09 70,295.07 70.5,295.05 71,295.02 71.5,294.99 72,294.96 72.5,294.93 73,294.9 73.5,294.86 74,294.83 74.5,294.79 75,294.74 75.5,294.69 76,294.63 76.5,294.56 77,294.48 77.5,294.37 78,294.24 78.5,294.09 79,293.89 79.5,293.66 80,293.36 80.5,293 81,292.58 81.5,292.07 82,291.45 82.5,290.71 83,289.87 83.5,288.92 84,287.84 84.5,286.81 85,285.86 85.5,284.95 86,284.04 86.5,283.15 87,282.29 87.5,281.48 88,280.71 88.5,280.01 89,279.35 89.5,278.72 90,278.1 90.5,277.48 91,276.83 91.5,276.17 92,275.46 92.5,274.73 93,273.98 93.5,273.22 94,272.46 94.5,271.68 95,270.89 95.5,270.11 96,269.31 96.5,268.52 97,267.72 97.5,266.93 98,266.14 98.5,265.36 99,264.57 99.5,263.78 100,262.99 100.5,262.19 101,261.37 101.5,260.54 102,259.68 102.5,258.79 103,257.89 103.5,256.96 104,255.98 104.5,254.92 105,253.7 105.5,252.24 106,250.26 106.5,247.75 107,244.8 107.5,241.46 108,238.33 108.5,235.24 109,232.17 109.5,229.43 110,227 110.5,224.79 111,222.74 111.5,220.74 112,218.77 112.5,216.81 113,214.83 113.5,212.83 114,210.79 114.5,208.69 115,206.51 115.5,204.22 116,201.84 116.5,199.39 117,196.88 117.5,194.33 118,191.77 118.5,189.2 119,186.67 119.5,184.12 120,181.53 120.5,178.89 121,176.19 121.5,173.41 122,170.59 122.5,167.72 123,164.7 123.5,161.2 124,156.3 124.5,149.1 125,113.74 125.5,106.4 126,100.74 126.5,95.73 127,91.18 127.5,86.8 128,82.64 128.5,79.06 129,76.42 129.5,75.08 130,75.04 130.5,75.93 131,77.17 131.5,78.35 132,79.48 132.5,80.72 133,81.99 133.5,83.3 134,84.73 134.5,86.28 135,87.93 135.5,89.72 136,91.63 136.5,93.63 137,95.69 137.5,97.79 138,99.92 138.5,102.06 139,104.19 139.5,106.26 140,108.25 140.5,110.2 141,112.09 141.5,113.93 142,115.7 142.5,117.38 143,119 143.5,120.65 144,122.27 144.5,123.63 145,124.61 145.5,125.32 146,125.82 146.5,126.15 147,126.37 147.5,126.53 148,126.66 148.5,126.79 149,126.93 149.5,127.11 150,127.32 150.5,127.6 151,127.88 151.5,128.16 152,128.44 152.5,128.72 153,129 153.5,129.28 154,129.55 154.5,129.82 155,130.09 155.5,130.36 156,130.62 156.5,130.84 157,131.05 157.5,131.27 158,131.48 158.5,131.71 159,131.99 159.5,132.3 160,132.62 160.5,132.94 161,133.21 161.5,133.4 162,133.47 162.5,133.42 163,133.26 163.5,132.93 164,132.46 164.5,131.87 165,131.21 165.5,130.49 166,129.76 166.5,129.03 167,128.33 167.5,127.69 168,127.13 168.5,126.69 169,126.42 169.5,126.34 170,126.4 170.5,126.6 171,126.94 171.5,127.41 172,127.99 172.5,128.64 173,129.35 173.5,130.08 174,130.81 174.5,131.55 175,132.35 175.5,133.2 176,134.09 176.5,135 177,135.93 177.5,136.87 178,137.81 178.5,138.75 179,139.66 179.5,140.56 180,141.42 180.5,142.28 181,143.13 181.5,143.96 182,144.76 182.5,145.6 183,146.43 183.5,147.25 184,148.05 184.5,148.83 185,149.59 185.5,150.35 186,151.08 186.5,151.78 187,152.45 187.5,153.09 188,153.69 188.5,154.23 189,154.73 189.5,155.18 190,155.59 190.5,155.97 191,156.3 191.5,156.6 192,156.85 192.5,157.07 193,157.27 193.5,157.43 194,157.58 194.5,157.71 195,157.83 195.5,157.94 196,158.05 196.5,158.14 197,158.2 197.5,158.23 198,158.24 198.5,158.24 199,158.21 199.5,158.17 200,158.12 200.5,158.05 201,157.98 201.5,157.9 202,157.82 202.5,157.73 203,157.64 203.5,157.56 204,157.46 204.5,157.35 205,157.22 205.5,157.06 206,156.88 206.5,156.66 207,156.42 207.5,156.15 208,155.85 208.5,155.51 209,155.11 209.5,154.67 210,154.2 210.5,153.71 211,153.23 211.5,152.76 212,152.31 212.5,151.89 213,151.53 213.5,151.22 214,150.98 214.5,150.82 215,150.72 215.5,150.66 216,150.65 216.5,150.67 217,150.72 217.5,150.79 218,150.87 218.5,150.95 219,151.04 219.5,151.12 220,151.19 220.5,151.26 221,151.38 221.5,151.54 222,151.73 222.5,151.93 223,152.11 223.5,152.27 224,152.38 224.5,152.43 225,152.42 225.5,152.34 226,152.2 226.5,151.98 227,151.72 227.5,151.42 228,151.1 228.5,150.74 229,150.37 229.5,149.98 230,149.58 230.5,149.17 231,148.75 231.5,148.33 232,147.9 232.5,147.48 233,147.05 233.5,146.63 234,146.23 234.5,145.82 235,145.4 235.5,144.92 236,144.44 236.5,143.94 237,143.44 237.5,142.93 238,142.43 238.5,141.94 239,141.47 239.5,141.01 240,140.55 240.5,140.1 241,139.64 241.5,139.19 242,138.74 242.5,138.3 243,137.85 243.5,137.4 244,136.95 244.5,136.49 245,136.02 245.5,135.54 246,135.07 246.5,134.59 247,134.13 247.5,133.68 248,133.24 248.5,132.8 249,132.37 249.5,131.96 250,131.57 250.5,131.18 251,130.81 251.5,130.43 252,130.06 252.5,129.7 253,129.33 253.5,128.98 254,128.62 254.5,128.28 255,127.94 255.5,127.6 256,127.28 256.5,126.96 257,126.65 257.5,126.36 258,126.08 258.5,125.82 259,125.59 259.5,125.37 260,125.18 260.5,125.01 261,124.85 261.5,124.71 262,124.58 262.5,124.45 263,124.34 263.5,124.22 264,124.09 264.5,123.96 265,123.81 265.5,123.66 266,123.53 266.5,123.43 267,123.37 267.5,123.34 268,123.33 268.5,123.35 269,123.37 269.5,123.42 270,123.48 270.5,123.54 271,123.62 271.5,123.69 272,123.78 272.5,123.86 273,123.95 273.5,124.04 274,124.13 274.5,124.22 275,124.3 275.5,124.39 276,124.48 276.5,124.56 277,124.65 277.5,124.73 278,124.8 278.5,124.88 279,124.95 279.5,125.02 280,125.09 280.5,125.17 281,125.24 281.5,125.31 282,125.38 282.5,125.45 283,125.52 283.5,125.59 284,125.65 284.5,125.72 285,125.79 285.5,125.86 286,125.92 286.5,125.99 287,126.05 287.5,126.12 288,126.18 288.5,126.24 289,126.31 289.5,126.37 290,126.44 290.5,126.5 291,126.57 291.5,126.64 292,126.7 292.5,126.77 293,126.84 293.5,126.91 294,126.97 294.5,127.04 295,127.11 295.5,127.18 296,127.25 296.5,127.31 297,127.38 297.5,127.45 298,127.52 298.5,127.59 299,127.65 299.5,127.72 300,127.79 300.5,127.86 301,127.93 301.5,128" stroke="#f3cc6a"/>
<path d="M62.5,295.3 63,295.28 63.5,295.27 64,295.26 64.5,295.24 65,295.23 65.5,295.22 66,295.2 66.5,295.19 67,295.17 67.5,295.16 68,295.14 68.5,295.12 69,295.1 69.5,295.09 70,295.06 70.5,295.04 71,295.02 71.5,294.99 72,294.96 72.5,294.92 73,294.89 73.5,294.85 74,294.81 74.5,294.77 75,294.72 75.5,294.67 76,294.61 76.5,294.53 77,294.44 77.5,294.33 78,294.19 78.5,294.03 79,293.82 79.5,293.57 80,293.26 80.5,292.86 81,292.4 81.5,291.84 82,291.15 82.5,290.31 83,289.37 83.5,288.31 84,287.09 84.5,285.93 85,284.86 85.5,283.83 86,282.81 86.5,281.8 87,280.82 87.5,279.89 88,279 88.5,278.16 89,277.36 89.5,276.59 90,275.82 90.5,275.05 91,274.27 91.5,273.46 92,272.62 92.5,271.76 93,270.88 93.5,269.99 94,269.09 94.5,268.19 95,267.28 95.5,266.36 96,265.45 96.5,264.53 97,263.6 97.5,262.69 98,261.77 98.5,260.86 99,259.95 99.5,259.03 100,258.12 100.5,257.19 101,256.26 101.5,255.31 102,254.34 102.5,253.35 103,252.35 103.5,251.33 104,250.27 104.5,249.14 105,247.88 105.5,246.4 106,244.45 106.5,242.04 107,239.23 107.5,236.08 108,233.11 108.5,230.19 109,227.27 109.5,224.65 110,222.3 110.5,220.15 111,218.12 111.5,216.14 112,214.18 112.5,212.22 113,210.24 113.5,208.23 114,206.19 114.5,204.09 115,201.92 115.5,199.64 116,197.28 116.5,194.85 117,192.37 117.5,189.85 118,187.32 118.5,184.81 119,182.33 119.5,179.86 120,177.36 120.5,174.83 121,172.24 121.5,169.59 122,166.87 122.5,164.09 123,161.2 123.5,157.91 124,153.43 124.5,146.97 125,115.45 125.5,108.82 126,103.67 126.5,99.1 127,94.92 127.5,90.91 128,87.08 128.5,83.77 129,81.31 129.5,80.03 130,79.91 130.5,80.64 131,81.71 131.5,82.72 132,83.69 132.5,84.78 133,85.86 133.5,86.99 134,88.23 134.5,89.58 135,91.05 135.5,92.64 136,94.36 136.5,96.16 137,98.02 137.5,99.93 138,101.87 138.5,103.83 139,105.79 139.5,107.71 140,109.55 140.5,111.35 141,113.12 141.5,114.83 142,116.49 142.5,118.07 143,119.59 143.5,121.14 144,122.68 144.5,123.97 145,124.9 145.5,125.57 146,126.05 146.5,126.37 147,126.58 147.5,126.73 148,126.85 148.5,126.97 149,127.11 149.5,127.28 150,127.48 150.5,127.76 151,128.04 151.5,128.32 152,128.6 152.5,128.87 153,129.15 153.5,129.42 154,129.7 154.5,129.97 155,130.23 155.5,130.5 156,130.76 156.5,130.97 157,131.18 157.5,131.39 158,131.6 158.5,131.83 159,132.1 159.5,132.4 160,132.72 160.5,133.03 161,133.3 161.5,133.48 162,133.56 162.5,133.51 163,133.36 163.5,133.05 164,132.59 164.5,132.03 165,131.39 165.5,130.7 166,129.99 166.5,129.29 167,128.61 167.5,127.99 168,127.45 168.5,127.03 169,126.78 169.5,126.71 170,126.78 170.5,126.98 171,127.32 171.5,127.79 172,128.36 172.5,129.01 173,129.7 173.5,130.42 174,131.14 174.5,131.87 175,132.66 175.5,133.49 176,134.35 176.5,135.24 177,136.15 177.5,137.06 178,137.97 178.5,138.87 179,139.75 179.5,140.61 180,141.43 180.5,142.24 181,143.04 181.5,143.82 182,144.56 182.5,145.34 183,146.11 183.5,146.87 184,147.6 184.5,148.32 185,149.01 185.5,149.69 186,150.36 186.5,151 187,151.61 187.5,152.18 188,152.72 188.5,153.21 189,153.66 189.5,154.07 190,154.44 190.5,154.78 191,155.08 191.5,155.34 192,155.57 192.5,155.76 193,155.93 193.5,156.07 194,156.19 194.5,156.3 195,156.4 195.5,156.49 196,156.59 196.5,156.66 197,156.71 197.5,156.73 198,156.73 198.5,156.71 199,156.68 199.5,156.64 200,156.58 200.5,156.52 201,156.44 201.5,156.36 202,156.28 202.5,156.19 203,156.11 203.5,156.02 204,155.93 204.5,155.82 205,155.7 205.5,155.55 206,155.37 206.5,155.17 207,154.93 207.5,154.68 208,154.4 208.5,154.08 209,153.7 209.5,153.28 210,152.83 210.5,152.38 211,151.92 211.5,151.48 212,151.05 212.5,150.66 213,150.32 213.5,150.03 214,149.81 214.5,149.66 215,149.56 215.5,149.51 216,149.5 216.5,149.52 217,149.56 217.5,149.63 218,149.7 218.5,149.79 219,149.87 219.5,149.95 220,150.01 220.5,150.08 221,150.2 221.5,150.36 222,150.54 222.5,150.73 223,150.9 223.5,151.05 224,151.16 224.5,151.21 225,151.2 225.5,151.14 226,151 226.5,150.81 227,150.57 227.5,150.29 228,149.99 228.5,149.66 229,149.31 229.5,148.95 230,148.58 230.5,148.2 231,147.81 231.5,147.42 232,147.03 232.5,146.64 233,146.25 233.5,145.86 234,145.49 234.5,145.11 235,144.73 235.5,144.28 236,143.83 236.5,143.37 237,142.9 237.5,142.43 238,141.96 238.5,141.51 239,141.07 239.5,140.65 240,140.23 240.5,139.81 241,139.4 241.5,138.98 242,138.57 242.5,138.16 243,137.76 243.5,137.35 244,136.94 244.5,136.52 245,136.09 245.5,135.66 246,135.23 246.5,134.8 247,134.38 247.5,133.97 248,133.58 248.5,133.18 249,132.8 249.5,132.43 250,132.07 250.5,131.72 251,131.38 251.5,131.04 252,130.7 252.5,130.37 253,130.04 253.5,129.72 254,129.4 254.5,129.08 255,128.77 255.5,128.47 256,128.17 256.5,127.88 257,127.6 257.5,127.33 258,127.07 258.5,126.84 259,126.62 259.5,126.42 260,126.24 260.5,126.08 261,125.94 261.5,125.8 262,125.68 262.5,125.57 263,125.46 263.5,125.34 264,125.22 264.5,125.1 265,124.96 265.5,124.82 266,124.69 266.5,124.59 267,124.53 267.5,124.5 268,124.49 268.5,124.49 269,124.51 269.5,124.55 270,124.59 270.5,124.65 271,124.71 271.5,124.77 272,124.84 272.5,124.91 273,124.98 273.5,125.06 274,125.13 274.5,125.2 275,125.28 275.5,125.35 276,125.42 276.5,125.49 277,125.56 277.5,125.62 278,125.68 278.5,125.74 279,125.8 279.5,125.86 280,125.91 280.5,125.97 281,126.02 281.5,126.08 282,126.13 282.5,126.19 283,126.24 283.5,126.29 284,126.35 284.5,126.4 285,126.45 285.5,126.5 286,126.54 286.5,126.59 287,126.64 287.5,126.69 288,126.73 288.5,126.78 289,126.82 289.5,126.87 290,126.91 290.5,126.96 291,127.01 291.5,127.05 292,127.1 292.5,127.15 293,127.2 293.5,127.24 294,127.29 294.5,127.34 295,127.38 295.5,127.43 296,127.48 296.5,127.53 297,127.57 297.5,127.62 298,127.67 298.5,127.71 299,127.76 299.5,127.81 300,127.85 300.5,127.9 301,127.95 301.5,128" stroke="#eee070"/>
<path d="M62.5,295.3 63,295.28 63.5,295.27 64,295.26 64.5,295.24 65,295.23 65.5,295.21 66,295.2 66.5,295.19 67,295.17 67.5,295.16 68,295.14 68.5,295.12 69,295.1 69.5,295.08 70,295.06 70.5,295.04 71,295.01 71.5,294.98 72,294.95 72.5,294.91 73,294.87 73.5,294.84 74,294.8 74.5,294.75 75,294.7 75.5,294.65 76,294.58 76.5,294.5 77,294.41 77.5,294.29 78,294.14 78.5,293.97 79,293.76 79.5,293.49 80,293.15 80.5,292.73 81,292.23 81.5,291.62 82,290.86 82.5,289.93 83,288.9 83.5,287.72 84,286.37 84.5,285.08 85,283.89 85.5,282.75 86,281.62 86.5,280.5 87,279.41 87.5,278.36 88,277.35 88.5,276.38 89,275.45 89.5,274.54 90,273.64 90.5,272.73 91,271.8 91.5,270.86 92,269.89 92.5,268.9 93,267.9 93.5,266.89 94,265.87 94.5,264.84 95,263.81 95.5,262.77 96,261.73 96.5,260.69 97,259.65 97.5,258.61 98,257.57 98.5,256.54 99,255.51 99.5,254.47 100,253.44 100.5,252.4 101,251.35 101.5,250.28 102,249.21 102.5,248.12 103,247.03 103.5,245.92 104,244.79 104.5,243.59 105,242.29 105.5,240.78 106,238.87 106.5,236.55 107,233.88 107.5,230.91 108,228.11 108.5,225.34 109,222.57 109.5,220.06 110,217.79 110.5,215.68 111,213.68 111.5,211.72 112,209.77 112.5,207.81 113,205.82 113.5,203.82 114,201.77 114.5,199.67 115,197.51 115.5,195.25 116,192.9 116.5,190.49 117,188.03 117.5,185.54 118,183.05 118.5,180.58 119,178.17 119.5,175.77 120,173.36 120.5,170.93 121,168.45 121.5,165.91 122,163.29 122.5,160.6 123,157.83 123.5,154.76 124,150.68 124.5,144.92 125,117.09 125.5,111.13 126,106.48 126.5,102.33 127,98.52 127.5,94.86 128,91.35 128.5,88.3 129,86.01 129.5,84.77 130,84.59 130.5,85.17 131,86.06 131.5,86.92 132,87.74 132.5,88.68 133,89.59 133.5,90.53 134,91.59 134.5,92.76 135,94.04 135.5,95.45 136,96.97 136.5,98.59 137,100.26 137.5,101.98 138,103.75 138.5,105.54 139,107.33 139.5,109.09 140,110.79 140.5,112.46 141,114.1 141.5,115.7 142,117.25 142.5,118.72 143,120.16 143.5,121.62 144,123.07 144.5,124.29 145,125.18 145.5,125.82 146,126.27 146.5,126.58 147,126.78 147.5,126.92 148,127.03 148.5,127.15 149,127.28 149.5,127.44 150,127.63 150.5,127.91 151,128.19 151.5,128.47 152,128.74 152.5,129.02 153,129.3 153.5,129.57 154,129.84 154.5,130.11 155,130.37 155.5,130.63 156,130.89 156.5,131.1 157,131.31 157.5,131.52 158,131.72 158.5,131.95 159,132.21 159.5,132.51 160,132.82 160.5,133.13 161,133.39 161.5,133.57 162,133.65 162.5,133.61 163,133.47 163.5,133.17 164,132.74 164.5,132.2 165,131.59 165.5,130.93 166,130.26 166.5,129.58 167,128.94 167.5,128.34 168,127.83 168.5,127.43 169,127.2 169.5,127.14 170,127.22 170.5,127.42 171,127.76 171.5,128.22 172,128.78 172.5,129.42 173,130.1 173.5,130.81 174,131.51 174.5,132.22 175,132.99 175.5,133.8 176,134.64 176.5,135.5 177,136.38 177.5,137.26 178,138.14 178.5,139 179,139.84 179.5,140.65 180,141.44 180.5,142.2 181,142.96 181.5,143.69 182,144.37 182.5,145.1 183,145.81 183.5,146.5 184,147.17 184.5,147.82 185,148.44 185.5,149.07 186,149.67 186.5,150.24 187,150.79 187.5,151.31 188,151.8 188.5,152.24 189,152.63 189.5,153 190,153.34 190.5,153.64 191,153.91 191.5,154.14 192,154.33 192.5,154.5 193,154.64 193.5,154.76 194,154.86 194.5,154.95 195,155.03 195.5,155.1 196,155.18 196.5,155.24 197,155.27 197.5,155.28 198,155.28 198.5,155.25 199,155.22 199.5,155.17 200,155.11 200.5,155.04 201,154.97 201.5,154.89 202,154.8 202.5,154.72 203,154.63 203.5,154.55 204,154.46 204.5,154.35 205,154.23 205.5,154.09 206,153.92 206.5,153.73 207,153.51 207.5,153.26 208,153 208.5,152.7 209,152.34 209.5,151.94 210,151.53 210.5,151.1 211,150.67 211.5,150.25 212,149.85 212.5,149.48 213,149.16 213.5,148.89 214,148.68 214.5,148.54 215,148.45 215.5,148.4 216,148.39 216.5,148.41 217,148.45 217.5,148.51 218,148.59 218.5,148.67 219,148.75 219.5,148.83 220,148.89 220.5,148.96 221,149.07 221.5,149.22 222,149.39 222.5,149.57 223,149.74 223.5,149.88 224,149.99 224.5,150.04 225,150.04 225.5,149.98 226,149.86 226.5,149.68 227,149.46 227.5,149.2 228,148.92 228.5,148.62 229,148.3 229.5,147.97 230,147.62 230.5,147.27 231,146.91 231.5,146.55 232,146.19 232.5,145.83 233,145.47 233.5,145.12 234,144.78 234.5,144.44 235,144.08 235.5,143.67 236,143.25 236.5,142.81 237,142.38 237.5,141.94 238,141.51 238.5,141.1 239,140.69 239.5,140.3 240,139.92 240.5,139.54 241,139.16 241.5,138.78 242,138.41 242.5,138.04 243,137.67 243.5,137.3 244,136.93 244.5,136.55 245,136.17 245.5,135.78 246,135.39 246.5,135 247,134.63 247.5,134.26 248,133.91 248.5,133.55 249,133.21 249.5,132.87 250,132.55 250.5,132.24 251,131.93 251.5,131.62 252,131.32 252.5,131.02 253,130.72 253.5,130.43 254,130.14 254.5,129.85 255,129.57 255.5,129.3 256,129.02 256.5,128.76 257,128.5 257.5,128.26 258,128.03 258.5,127.81 259,127.61 259.5,127.43 260,127.27 260.5,127.12 261,126.98 261.5,126.86 262,126.74 262.5,126.64 263,126.53 263.5,126.42 264,126.31 264.5,126.19 265,126.06 265.5,125.93 266,125.81 266.5,125.71 267,125.65 267.5,125.61 268,125.59 268.5,125.6 269,125.61 269.5,125.63 270,125.67 270.5,125.71 271,125.76 271.5,125.81 272,125.86 272.5,125.92 273,125.98 273.5,126.04 274,126.1 274.5,126.15 275,126.21 275.5,126.27 276,126.33 276.5,126.38 277,126.43 277.5,126.48 278,126.53 278.5,126.57 279,126.61 279.5,126.66 280,126.7 280.5,126.74 281,126.78 281.5,126.82 282,126.86 282.5,126.9 283,126.94 283.5,126.97 284,127.01 284.5,127.05 285,127.08 285.5,127.11 286,127.14 286.5,127.17 287,127.2 287.5,127.23 288,127.26 288.5,127.29 289,127.32 289.5,127.34 290,127.37 290.5,127.4 291,127.43 291.5,127.46 292,127.48 292.5,127.51 293,127.54 293.5,127.57 294,127.59 294.5,127.62 295,127.65 295.5,127.68 296,127.7 296.5,127.73 297,127.76 297.5,127.78 298,127.81 298.5,127.83 299,127.86 299.5,127.89 300,127.91 300.5,127.94 301,127.97 301.5,128" stroke="#d6e46e"/>
<path d="M62.5,295.3 63,295.28 63.5,295.27 64,295.26 64.5,295.24 65,295.23 65.5,295.21 66,295.2 66.5,295.19 67,295.17 67.5,295.15 68,295.14 68.5,295.12 69,295.1 69.5,295.08 70,295.06 70.5,295.03 71,295.01 71.5,294.98 72,294.94 72.5,294.9 73,294.86 73.5,294.82 74,294.78 74.5,294.74 75,294.68 75.5,294.62 76,294.55 76.5,294.47 77,294.37 77.5,294.25 78,294.1 78.5,293.91 79,293.69 79.5,293.41 80,293.05 80.5,292.6 81,292.06 81.5,291.41 82,290.58 82.5,289.57 83,288.44 83.5,287.15 84,285.67 84.5,284.26 85,282.96 85.5,281.71 86,280.47 86.5,279.25 87,278.05 87.5,276.88 88,275.75 88.5,274.66 89,273.6 89.5,272.56 90,271.52 90.5,270.48 91,269.42 91.5,268.35 92,267.26 92.5,266.14 93,265.02 93.5,263.88 94,262.74 94.5,261.6 95,260.45 95.5,259.3 96,258.14 96.5,256.98 97,255.82 97.5,254.67 98,253.51 98.5,252.36 99,251.21 99.5,250.06 100,248.91 100.5,247.76 101,246.6 101.5,245.43 102,244.25 102.5,243.07 103,241.88 103.5,240.69 104,239.49 104.5,238.23 105,236.88 105.5,235.36 106,233.47 106.5,231.24 107,228.71 107.5,225.92 108,223.27 108.5,220.64 109,218.03 109.5,215.62 110,213.43 110.5,211.37 111,209.4 111.5,207.45 112,205.5 112.5,203.54 113,201.56 113.5,199.54 114,197.49 114.5,195.4 115,193.24 115.5,191 116,188.67 116.5,186.27 117,183.84 117.5,181.38 118,178.92 118.5,176.5 119,174.14 119.5,171.81 120,169.49 120.5,167.16 121,164.79 121.5,162.35 122,159.82 122.5,157.23 123,154.58 123.5,151.71 124,148.01 124.5,142.94 125,118.68 125.5,113.37 126,109.19 126.5,105.45 127,102.01 127.5,98.67 128,95.47 128.5,92.68 129,90.55 129.5,89.36 130,89.12 130.5,89.55 131,90.28 131.5,90.97 132,91.66 132.5,92.44 133,93.19 133.5,93.95 134,94.83 134.5,95.83 135,96.93 135.5,98.16 136,99.5 136.5,100.93 137,102.42 137.5,103.97 138,105.56 138.5,107.19 139,108.82 139.5,110.43 140,111.99 140.5,113.53 141,115.05 141.5,116.54 142,117.98 142.5,119.36 143,120.7 143.5,122.07 144,123.45 144.5,124.61 145,125.45 145.5,126.06 146,126.49 146.5,126.78 147,126.97 147.5,127.1 148,127.21 148.5,127.32 149,127.45 149.5,127.6 150,127.78 150.5,128.06 151,128.33 151.5,128.61 152,128.89 152.5,129.16 153,129.44 153.5,129.71 154,129.97 154.5,130.24 155,130.5 155.5,130.76 156,131.01 156.5,131.22 157,131.43 157.5,131.64 158,131.85 158.5,132.07 159,132.33 159.5,132.62 160,132.93 160.5,133.23 161,133.49 161.5,133.67 162,133.75 162.5,133.72 163,133.58 163.5,133.31 164,132.9 164.5,132.39 165,131.81 165.5,131.19 166,130.55 166.5,129.91 167,129.3 167.5,128.74 168,128.26 168.5,127.88 169,127.67 169.5,127.63 170,127.71 170.5,127.91 171,128.25 171.5,128.7 172,129.25 172.5,129.87 173,130.54 173.5,131.23 174,131.91 174.5,132.61 175,133.35 175.5,134.14 176,134.95 176.5,135.78 177,136.62 177.5,137.47 178,138.31 178.5,139.13 179,139.93 179.5,140.7 180,141.44 180.5,142.16 181,142.87 181.5,143.55 182,144.19 182.5,144.86 183,145.51 183.5,146.14 184,146.75 184.5,147.34 185,147.9 185.5,148.46 186,149 186.5,149.51 187,150.01 187.5,150.47 188,150.9 188.5,151.29 189,151.64 189.5,151.97 190,152.27 190.5,152.54 191,152.77 191.5,152.97 192,153.14 192.5,153.28 193,153.4 193.5,153.49 194,153.57 194.5,153.64 195,153.7 195.5,153.76 196,153.82 196.5,153.86 197,153.88 197.5,153.88 198,153.87 198.5,153.84 199,153.8 199.5,153.74 200,153.68 200.5,153.61 201,153.54 201.5,153.46 202,153.37 202.5,153.29 203,153.21 203.5,153.12 204,153.03 204.5,152.93 205,152.82 205.5,152.68 206,152.52 206.5,152.34 207,152.13 207.5,151.9 208,151.65 208.5,151.36 209,151.03 209.5,150.65 210,150.26 210.5,149.86 211,149.45 211.5,149.06 212,148.68 212.5,148.34 213,148.04 213.5,147.78 214,147.59 214.5,147.45 215,147.37 215.5,147.32 216,147.32 216.5,147.34 217,147.38 217.5,147.44 218,147.51 218.5,147.59 219,147.67 219.5,147.74 220,147.8 220.5,147.86 221,147.97 221.5,148.12 222,148.28 222.5,148.45 223,148.61 223.5,148.75 224,148.85 224.5,148.91 225,148.91 225.5,148.86 226,148.75 226.5,148.59 227,148.38 227.5,148.15 228,147.89 228.5,147.61 229,147.32 229.5,147.01 230,146.7 230.5,146.37 231,146.04 231.5,145.71 232,145.38 232.5,145.05 233,144.73 233.5,144.41 234,144.09 234.5,143.78 235,143.46 235.5,143.07 236,142.68 236.5,142.28 237,141.88 237.5,141.47 238,141.08 238.5,140.69 239,140.33 239.5,139.97 240,139.62 240.5,139.27 241,138.93 241.5,138.59 242,138.25 242.5,137.92 243,137.58 243.5,137.25 244,136.92 244.5,136.58 245,136.23 245.5,135.88 246,135.54 246.5,135.2 247,134.86 247.5,134.54 248,134.23 248.5,133.91 249,133.6 249.5,133.3 250,133.02 250.5,132.74 251,132.46 251.5,132.19 252,131.92 252.5,131.65 253,131.38 253.5,131.12 254,130.86 254.5,130.6 255,130.35 255.5,130.1 256,129.85 256.5,129.61 257,129.38 257.5,129.16 258,128.95 258.5,128.75 259,128.57 259.5,128.4 260,128.25 260.5,128.12 261,127.99 261.5,127.88 262,127.77 262.5,127.67 263,127.57 263.5,127.47 264,127.36 264.5,127.25 265,127.12 265.5,127 266,126.88 266.5,126.79 267,126.73 267.5,126.69 268,126.67 268.5,126.66 269,126.67 269.5,126.68 270,126.7 270.5,126.74 271,126.77 271.5,126.81 272,126.85 272.5,126.89 273,126.94 273.5,126.98 274,127.03 274.5,127.07 275,127.12 275.5,127.16 276,127.2 276.5,127.24 277,127.28 277.5,127.31 278,127.34 278.5,127.37 279,127.4 279.5,127.43 280,127.46 280.5,127.49 281,127.51 281.5,127.54 282,127.56 282.5,127.58 283,127.61 283.5,127.63 284,127.65 284.5,127.67 285,127.69 285.5,127.71 286,127.72 286.5,127.74 287,127.75 287.5,127.76 288,127.77 288.5,127.78 289,127.8 289.5,127.81 290,127.81 290.5,127.82 291,127.83 291.5,127.84 292,127.85 292.5,127.86 293,127.87 293.5,127.88 294,127.89 294.5,127.9 295,127.9 295.5,127.91 296,127.92 296.5,127.93 297,127.93 297.5,127.94 298,127.95 298.5,127.95 299,127.96 299.5,127.97 300,127.97 300.5,127.98 301,127.99 301.5,128" stroke="#aedb6a"/>
<path d="M62.5,295.3 63,295.28 63.5,295.27 64,295.25 64.5,295.24 65,295.23 65.5,295.21 66,295.2 66.5,295.18 67,295.17 67.5,295.15 68,295.14 68.5,295.12 69,295.1 69.5,295.08 70,295.06 70.5,295.03 71,295 71.5,294.97 72,294.94 72.5,294.9 73,294.86 73.5,294.81 74,294.77 74.5,294.72 75,294.67 75.5,294.6 76,294.53 76.5,294.44 77,294.34 77.5,294.21 78,294.05 78.5,293.86 79,293.63 79.5,293.33 80,292.96 80.5,292.48 81,291.9 81.5,291.2 82,290.31 82.5,289.21 83,287.99 83.5,286.6 84,285 84.5,283.47 85,282.05 85.5,280.7 86,279.36 86.5,278.03 87,276.72 87.5,275.45 88,274.2 88.5,272.99 89,271.8 89.5,270.63 90,269.46 90.5,268.29 91,267.11 91.5,265.91 92,264.69 92.5,263.46 93,262.21 93.5,260.96 94,259.71 94.5,258.45 95,257.19 95.5,255.92 96,254.65 96.5,253.38 97,252.1 97.5,250.83 98,249.57 98.5,248.3 99,247.04 99.5,245.77 100,244.51 100.5,243.25 101,241.98 101.5,240.71 102,239.43 102.5,238.15 103,236.88 103.5,235.61 104,234.33 104.5,233.02 105,231.62 105.5,230.08 106,228.23 106.5,226.08 107,223.68 107.5,221.06 108,218.56 108.5,216.08 109,213.61 109.5,211.31 110,209.19 110.5,207.18 111,205.23 111.5,203.29 112,201.35 112.5,199.39 113,197.41 113.5,195.39 114,193.34 114.5,191.25 115,189.1 115.5,186.87 116,184.55 116.5,182.18 117,179.76 117.5,177.33 118,174.91 118.5,172.53 119,170.23 119.5,167.97 120,165.73 120.5,163.5 121,161.23 121.5,158.9 122,156.46 122.5,153.95 123,151.42 123.5,148.74 124,145.43 124.5,141.02 125,120.23 125.5,115.55 126,111.83 126.5,108.48 127,105.39 127.5,102.38 128,99.48 128.5,96.93 129,94.97 129.5,93.82 130,93.51 130.5,93.81 131,94.37 131.5,94.92 132,95.46 132.5,96.11 133,96.69 133.5,97.28 134,97.99 134.5,98.81 135,99.74 135.5,100.79 136,101.96 136.5,103.21 137,104.53 137.5,105.9 138,107.33 138.5,108.79 139,110.26 139.5,111.73 140,113.16 140.5,114.58 141,115.98 141.5,117.35 142,118.69 142.5,119.98 143,121.23 143.5,122.52 144,123.82 144.5,124.91 145,125.71 145.5,126.29 146,126.7 146.5,126.98 147,127.16 147.5,127.28 148,127.39 148.5,127.49 149,127.61 149.5,127.75 150,127.92 150.5,128.2 151,128.48 151.5,128.75 152,129.03 152.5,129.3 153,129.57 153.5,129.84 154,130.11 154.5,130.37 155,130.63 155.5,130.88 156,131.13 156.5,131.35 157,131.56 157.5,131.77 158,131.97 158.5,132.19 159,132.45 159.5,132.73 160,133.04 160.5,133.33 161,133.59 161.5,133.77 162,133.85 162.5,133.83 163,133.71 163.5,133.46 164,133.08 164.5,132.6 165,132.06 165.5,131.47 166,130.87 166.5,130.27 167,129.7 167.5,129.17 168,128.73 168.5,128.38 169,128.19 169.5,128.16 170,128.25 170.5,128.45 171,128.78 171.5,129.23 172,129.77 172.5,130.37 173,131.02 173.5,131.68 174,132.35 174.5,133.02 175,133.74 175.5,134.5 176,135.28 176.5,136.07 177,136.88 177.5,137.68 178,138.48 178.5,139.26 179,140.02 179.5,140.75 180,141.45 180.5,142.13 181,142.79 181.5,143.42 182,144.02 182.5,144.63 183,145.23 183.5,145.8 184,146.35 184.5,146.87 185,147.37 185.5,147.87 186,148.35 186.5,148.81 187,149.24 187.5,149.65 188,150.03 188.5,150.37 189,150.68 189.5,150.96 190,151.23 190.5,151.46 191,151.66 191.5,151.84 192,151.98 192.5,152.09 193,152.19 193.5,152.26 194,152.32 194.5,152.37 195,152.42 195.5,152.46 196,152.5 196.5,152.53 197,152.54 197.5,152.53 198,152.5 198.5,152.46 199,152.42 199.5,152.36 200,152.29 200.5,152.22 201,152.15 201.5,152.07 202,151.99 202.5,151.9 203,151.82 203.5,151.74 204,151.65 204.5,151.55 205,151.44 205.5,151.31 206,151.16 206.5,150.99 207,150.79 207.5,150.57 208,150.34 208.5,150.07 209,149.75 209.5,149.4 210,149.03 210.5,148.65 211,148.27 211.5,147.9 212,147.55 212.5,147.23 213,146.95 213.5,146.71 214,146.53 214.5,146.4 215,146.32 215.5,146.28 216,146.27 216.5,146.29 217,146.34 217.5,146.39 218,146.46 218.5,146.54 219,146.61 219.5,146.68 220,146.74 220.5,146.8 221,146.91 221.5,147.05 222,147.2 222.5,147.37 223,147.52 223.5,147.65 224,147.75 224.5,147.81 225,147.81 225.5,147.77 226,147.67 226.5,147.52 227,147.34 227.5,147.13 228,146.89 228.5,146.63 229,146.37 229.5,146.08 230,145.79 230.5,145.5 231,145.2 231.5,144.9 232,144.6 232.5,144.3 233,144 233.5,143.71 234,143.43 234.5,143.15 235,142.86 235.5,142.5 236,142.13 236.5,141.76 237,141.39 237.5,141.02 238,140.65 238.5,140.3 239,139.97 239.5,139.64 240,139.33 240.5,139.01 241,138.71 241.5,138.4 242,138.1 242.5,137.8 243,137.5 243.5,137.21 244,136.91 244.5,136.61 245,136.3 245.5,135.99 246,135.68 246.5,135.38 247,135.09 247.5,134.81 248,134.54 248.5,134.26 249,133.99 249.5,133.72 250,133.47 250.5,133.22 251,132.98 251.5,132.74 252,132.5 252.5,132.26 253,132.02 253.5,131.79 254,131.56 254.5,131.33 255,131.1 255.5,130.88 256,130.66 256.5,130.44 257,130.24 257.5,130.03 258,129.84 258.5,129.67 259,129.5 259.5,129.35 260,129.21 260.5,129.09 261,128.97 261.5,128.87 262,128.77 262.5,128.67 263,128.58 263.5,128.49 264,128.39 264.5,128.28 265,128.16 265.5,128.04 266,127.93 266.5,127.84 267,127.78 267.5,127.74 268,127.71 268.5,127.7 269,127.69 269.5,127.7 270,127.71 270.5,127.73 271,127.76 271.5,127.78 272,127.81 272.5,127.84 273,127.87 273.5,127.9 274,127.93 274.5,127.97 275,128 275.5,128.02 276,128.05 276.5,128.08 277,128.1 277.5,128.12 278,128.14 278.5,128.15 279,128.17 279.5,128.18 280,128.2 280.5,128.21 281,128.22 281.5,128.23 282,128.24 282.5,128.25 283,128.26 283.5,128.27 284,128.28 284.5,128.28 285,128.28 285.5,128.29 286,128.29 286.5,128.28 287,128.28 287.5,128.28 288,128.27 288.5,128.27 289,128.26 289.5,128.25 290,128.24 290.5,128.24 291,128.23 291.5,128.22 292,128.21 292.5,128.2 293,128.19 293.5,128.18 294,128.17 294.5,128.16 295,128.15 295.5,128.14 296,128.13 296.5,128.12 297,128.1 297.5,128.09 298,128.08 298.5,128.07 299,128.05 299.5,128.04 300,128.03 300.5,128.02 301,128.01 301.5,128" stroke="#7ccc5e"/>
<path d="M62.5,295.3 63,295.28 63.5,295.27 64,295.25 64.5,295.24 65,295.23 65.5,295.21 66,295.2 66.5,295.18 67,295.17 67.5,295.15 68,295.14 68.5,295.12 69,295.1 69.5,295.08 70,295.05 70.5,295.03 71,295 71.5,294.97 72,294.93 72.5,294.89 73,294.85 73.5,294.8 74,294.76 74.5,294.7 75,294.65 75.5,294.58 76,294.51 76.5,294.42 77,294.31 77.5,294.17 78,294.01 78.5,293.81 79,293.56 79.5,293.26 80,292.86 80.5,292.35 81,291.74 81.5,291 82,290.04 82.5,288.86 83,287.56 83.5,286.06 84,284.34 84.5,282.69 85,281.17 85.5,279.71 86,278.27 86.5,276.84 87,275.43 87.5,274.05 88,272.69 88.5,271.36 89,270.05 89.5,268.75 90,267.46 90.5,266.16 91,264.85 91.5,263.53 92,262.19 92.5,260.84 93,259.48 93.5,258.12 94,256.75 94.5,255.38 95,254 95.5,252.63 96,251.24 96.5,249.86 97,248.48 97.5,247.1 98,245.72 98.5,244.34 99,242.97 99.5,241.59 100,240.22 100.5,238.85 101,237.48 101.5,236.1 102,234.73 102.5,233.36 103,232 103.5,230.65 104,229.31 104.5,227.93 105,226.5 105.5,224.93 106,223.11 106.5,221.05 107,218.78 107.5,216.33 108,213.97 108.5,211.64 109,209.3 109.5,207.11 110,205.05 110.5,203.09 111,201.16 111.5,199.24 112,197.31 112.5,195.35 113,193.36 113.5,191.34 114,189.29 114.5,187.2 115,185.06 115.5,182.84 116,180.54 116.5,178.18 117,175.79 117.5,173.38 118,170.99 118.5,168.66 119,166.41 119.5,164.22 120,162.07 120.5,159.92 121,157.76 121.5,155.53 122,153.18 122.5,150.75 123,148.33 123.5,145.85 124,142.9 124.5,139.14 125,121.73 125.5,117.67 126,114.41 126.5,111.44 127,108.69 127.5,106 128,103.39 128.5,101.08 129,99.28 129.5,98.17 130,97.8 130.5,97.96 131,98.36 131.5,98.76 132,99.17 132.5,99.68 133,100.1 133.5,100.52 134,101.06 134.5,101.72 135,102.48 135.5,103.36 136,104.36 136.5,105.43 137,106.58 137.5,107.78 138,109.05 138.5,110.35 139,111.68 139.5,113 140,114.3 140.5,115.59 141,116.88 141.5,118.14 142,119.39 142.5,120.58 143,121.75 143.5,122.96 144,124.18 144.5,125.21 145,125.97 145.5,126.52 146,126.91 146.5,127.17 147,127.34 147.5,127.46 148,127.56 148.5,127.65 149,127.77 149.5,127.9 150,128.07 150.5,128.34 151,128.62 151.5,128.89 152,129.17 152.5,129.44 153,129.71 153.5,129.97 154,130.24 154.5,130.5 155,130.75 155.5,131 156,131.25 156.5,131.47 157,131.68 157.5,131.89 158,132.09 158.5,132.31 159,132.57 159.5,132.85 160,133.15 160.5,133.44 161,133.69 161.5,133.87 162,133.96 162.5,133.95 163,133.85 163.5,133.62 164,133.26 164.5,132.82 165,132.32 165.5,131.78 166,131.22 166.5,130.66 167,130.13 167.5,129.65 168,129.24 168.5,128.93 169,128.76 169.5,128.74 170,128.83 170.5,129.04 171,129.37 171.5,129.8 172,130.32 172.5,130.91 173,131.53 173.5,132.18 174,132.81 174.5,133.46 175,134.15 175.5,134.87 176,135.62 176.5,136.38 177,137.14 177.5,137.91 178,138.66 178.5,139.4 179,140.12 179.5,140.8 180,141.45 180.5,142.09 181,142.7 181.5,143.29 182,143.84 182.5,144.4 183,144.95 183.5,145.46 184,145.95 184.5,146.42 185,146.85 185.5,147.3 186,147.72 186.5,148.12 187,148.49 187.5,148.85 188,149.18 188.5,149.47 189,149.74 189.5,149.98 190,150.21 190.5,150.42 191,150.59 191.5,150.73 192,150.85 192.5,150.94 193,151.01 193.5,151.06 194,151.1 194.5,151.13 195,151.16 195.5,151.18 196,151.21 196.5,151.22 197,151.22 197.5,151.2 198,151.17 198.5,151.12 199,151.07 199.5,151.01 200,150.94 200.5,150.87 201,150.79 201.5,150.71 202,150.63 202.5,150.55 203,150.47 203.5,150.39 204,150.3 204.5,150.21 205,150.1 205.5,149.98 206,149.83 206.5,149.67 207,149.48 207.5,149.28 208,149.06 208.5,148.8 209,148.5 209.5,148.18 210,147.83 210.5,147.48 211,147.12 211.5,146.78 212,146.45 212.5,146.15 213,145.88 213.5,145.66 214,145.49 214.5,145.38 215,145.3 215.5,145.26 216,145.26 216.5,145.28 217,145.32 217.5,145.37 218,145.44 218.5,145.51 219,145.58 219.5,145.65 220,145.71 220.5,145.77 221,145.87 221.5,146 222,146.15 222.5,146.31 223,146.46 223.5,146.58 224,146.68 224.5,146.73 225,146.75 225.5,146.71 226,146.62 226.5,146.49 227,146.32 227.5,146.13 228,145.91 228.5,145.68 229,145.44 229.5,145.18 230,144.92 230.5,144.65 231,144.37 231.5,144.1 232,143.83 232.5,143.56 233,143.29 233.5,143.03 234,142.78 234.5,142.53 235,142.27 235.5,141.93 236,141.59 236.5,141.25 237,140.91 237.5,140.57 238,140.24 238.5,139.92 239,139.62 239.5,139.33 240,139.04 240.5,138.76 241,138.49 241.5,138.22 242,137.95 242.5,137.68 243,137.42 243.5,137.16 244,136.9 244.5,136.64 245,136.37 245.5,136.1 246,135.83 246.5,135.57 247,135.31 247.5,135.07 248,134.84 248.5,134.6 249,134.36 249.5,134.13 250,133.91 250.5,133.7 251,133.48 251.5,133.27 252,133.06 252.5,132.85 253,132.65 253.5,132.44 254,132.24 254.5,132.03 255,131.83 255.5,131.64 256,131.44 256.5,131.25 257,131.07 257.5,130.89 258,130.72 258.5,130.56 259,130.41 259.5,130.28 260,130.15 260.5,130.04 261,129.93 261.5,129.83 262,129.74 262.5,129.65 263,129.57 263.5,129.48 264,129.38 264.5,129.28 265,129.17 265.5,129.06 266,128.95 266.5,128.87 267,128.8 267.5,128.76 268,128.73 268.5,128.71 269,128.7 269.5,128.69 270,128.7 270.5,128.71 271,128.72 271.5,128.73 272,128.75 272.5,128.77 273,128.78 273.5,128.8 274,128.82 274.5,128.84 275,128.85 275.5,128.87 276,128.88 276.5,128.89 277,128.9 277.5,128.91 278,128.91 278.5,128.92 279,128.92 279.5,128.92 280,128.92 280.5,128.92 281,128.91 281.5,128.91 282,128.91 282.5,128.9 283,128.9 283.5,128.89 284,128.89 284.5,128.88 285,128.86 285.5,128.85 286,128.83 286.5,128.82 287,128.8 287.5,128.78 288,128.76 288.5,128.74 289,128.71 289.5,128.69 290,128.66 290.5,128.64 291,128.61 291.5,128.59 292,128.56 292.5,128.53 293,128.51 293.5,128.48 294,128.45 294.5,128.42 295,128.39 295.5,128.36 296,128.33 296.5,128.3 297,128.27 297.5,128.24 298,128.21 298.5,128.18 299,128.15 299.5,128.12 300,128.08 300.5,128.05 301,128.03 301.5,128" stroke="#3fb04e"/>
<path d="M62.5,295.3 63,295.28 63.5,295.27 64,295.25 64.5,295.24 65,295.23 65.5,295.21 66,295.2 66.5,295.18 67,295.17 67.5,295.15 68,295.13 68.5,295.12 69,295.1 69.5,295.07 70,295.05 70.5,295.02 71,295 71.5,294.96 72,294.92 72.5,294.88 73,294.84 73.5,294.79 74,294.74 74.5,294.69 75,294.63 75.5,294.56 76,294.48 76.5,294.39 77,294.27 77.5,294.14 78,293.97 78.5,293.76 79,293.5 79.5,293.18 80,292.77 80.5,292.23 81,291.59 81.5,290.8 82,289.78 82.5,288.52 83,287.13 83.5,285.54 84,283.69 84.5,281.93 85,280.3 85.5,278.75 86,277.2 86.5,275.68 87,274.17 87.5,272.68 88,271.21 88.5,269.76 89,268.34 89.5,266.92 90,265.5 90.5,264.07 91,262.64 91.5,261.2 92,259.75 92.5,258.28 93,256.81 93.5,255.34 94,253.86 94.5,252.38 95,250.89 95.5,249.41 96,247.92 96.5,246.42 97,244.93 97.5,243.44 98,241.95 98.5,240.47 99,238.98 99.5,237.5 100,236.03 100.5,234.55 101,233.08 101.5,231.6 102,230.13 102.5,228.67 103,227.23 103.5,225.8 104,224.39 104.5,222.96 105,221.48 105.5,219.9 106,218.11 106.5,216.13 107,213.98 107.5,211.69 108,209.48 108.5,207.29 109,205.08 109.5,203 110,201.01 110.5,199.09 111,197.19 111.5,195.28 112,193.35 112.5,191.4 113,189.41 113.5,187.39 114,185.33 114.5,183.24 115,181.1 115.5,178.9 116,176.62 116.5,174.28 117,171.9 117.5,169.52 118,167.17 118.5,164.87 119,162.68 119.5,160.55 120,158.48 120.5,156.43 121,154.36 121.5,152.23 122,149.97 122.5,147.63 123,145.32 123.5,143.03 124,140.43 124.5,137.31 125,123.2 125.5,119.75 126,116.93 126.5,114.34 127,111.91 127.5,109.54 128,107.22 128.5,105.14 129,103.49 129.5,102.43 130,101.99 130.5,102.02 131,102.27 131.5,102.52 132,102.8 132.5,103.17 133,103.44 133.5,103.7 134,104.07 134.5,104.56 135,105.16 135.5,105.88 136,106.7 136.5,107.61 137,108.59 137.5,109.63 138,110.73 138.5,111.87 139,113.06 139.5,114.24 140,115.41 140.5,116.59 141,117.76 141.5,118.92 142,120.07 142.5,121.17 143,122.25 143.5,123.38 144,124.53 144.5,125.5 145,126.22 145.5,126.74 146,127.11 146.5,127.36 147,127.52 147.5,127.63 148,127.72 148.5,127.81 149,127.92 149.5,128.05 150,128.2 150.5,128.48 151,128.75 151.5,129.03 152,129.3 152.5,129.57 153,129.84 153.5,130.1 154,130.36 154.5,130.62 155,130.87 155.5,131.12 156,131.37 156.5,131.59 157,131.8 157.5,132.01 158,132.22 158.5,132.44 159,132.69 159.5,132.97 160,133.26 160.5,133.55 161,133.8 161.5,133.98 162,134.07 162.5,134.08 163,133.99 163.5,133.78 164,133.46 164.5,133.06 165,132.6 165.5,132.1 166,131.59 166.5,131.08 167,130.6 167.5,130.16 168,129.79 168.5,129.51 169,129.37 169.5,129.37 170,129.47 170.5,129.68 171,130 171.5,130.42 172,130.92 172.5,131.49 173,132.09 173.5,132.7 174,133.31 174.5,133.93 175,134.59 175.5,135.27 176,135.98 176.5,136.69 177,137.42 177.5,138.14 178,138.85 178.5,139.54 179,140.21 179.5,140.85 180,141.46 180.5,142.05 181,142.62 181.5,143.17 182,143.67 182.5,144.18 183,144.67 183.5,145.13 184,145.57 184.5,145.97 185,146.35 185.5,146.73 186,147.1 186.5,147.44 187,147.76 187.5,148.07 188,148.35 188.5,148.6 189,148.82 189.5,149.03 190,149.22 190.5,149.39 191,149.53 191.5,149.65 192,149.74 192.5,149.81 193,149.85 193.5,149.89 194,149.91 194.5,149.92 195,149.93 195.5,149.94 196,149.95 196.5,149.95 197,149.94 197.5,149.91 198,149.87 198.5,149.81 199,149.76 199.5,149.69 200,149.62 200.5,149.55 201,149.47 201.5,149.39 202,149.31 202.5,149.23 203,149.15 203.5,149.07 204,148.99 204.5,148.89 205,148.79 205.5,148.67 206,148.54 206.5,148.38 207,148.2 207.5,148.01 208,147.8 208.5,147.57 209,147.29 209.5,146.98 210,146.66 210.5,146.33 211,146 211.5,145.68 212,145.37 212.5,145.09 213,144.84 213.5,144.64 214,144.48 214.5,144.37 215,144.3 215.5,144.27 216,144.27 216.5,144.28 217,144.32 217.5,144.38 218,144.44 218.5,144.51 219,144.58 219.5,144.64 220,144.7 220.5,144.76 221,144.85 221.5,144.98 222,145.12 222.5,145.27 223,145.41 223.5,145.54 224,145.63 224.5,145.69 225,145.7 225.5,145.67 226,145.6 226.5,145.48 227,145.33 227.5,145.15 228,144.96 228.5,144.75 229,144.53 229.5,144.3 230,144.06 230.5,143.81 231,143.57 231.5,143.32 232,143.08 232.5,142.84 233,142.6 233.5,142.37 234,142.14 234.5,141.92 235,141.69 235.5,141.38 236,141.07 236.5,140.76 237,140.44 237.5,140.14 238,139.84 238.5,139.55 239,139.28 239.5,139.02 240,138.76 240.5,138.52 241,138.27 241.5,138.04 242,137.8 242.5,137.57 243,137.34 243.5,137.12 244,136.89 244.5,136.66 245,136.43 245.5,136.2 246,135.97 246.5,135.75 247,135.53 247.5,135.33 248,135.14 248.5,134.93 249,134.73 249.5,134.53 250,134.34 250.5,134.16 251,133.98 251.5,133.8 252,133.62 252.5,133.44 253,133.26 253.5,133.08 254,132.9 254.5,132.73 255,132.55 255.5,132.38 256,132.21 256.5,132.04 257,131.88 257.5,131.72 258,131.57 258.5,131.43 259,131.3 259.5,131.18 260,131.07 260.5,130.96 261,130.87 261.5,130.78 262,130.69 262.5,130.61 263,130.53 263.5,130.45 264,130.36 264.5,130.26 265,130.16 265.5,130.05 266,129.95 266.5,129.87 267,129.8 267.5,129.76 268,129.72 268.5,129.69 269,129.68 269.5,129.66 270,129.66 270.5,129.66 271,129.66 271.5,129.66 272,129.66 272.5,129.67 273,129.67 273.5,129.68 274,129.68 274.5,129.69 275,129.69 275.5,129.69 276,129.69 276.5,129.69 277,129.68 277.5,129.68 278,129.67 278.5,129.66 279,129.65 279.5,129.64 280,129.62 280.5,129.61 281,129.59 281.5,129.58 282,129.56 282.5,129.54 283,129.52 283.5,129.5 284,129.48 284.5,129.46 285,129.43 285.5,129.4 286,129.37 286.5,129.34 287,129.31 287.5,129.27 288,129.23 288.5,129.19 289,129.16 289.5,129.12 290,129.07 290.5,129.03 291,128.99 291.5,128.95 292,128.9 292.5,128.86 293,128.82 293.5,128.77 294,128.72 294.5,128.68 295,128.63 295.5,128.58 296,128.53 296.5,128.48 297,128.44 297.5,128.39 298,128.34 298.5,128.29 299,128.24 299.5,128.19 300,128.14 300.5,128.09 301,128.04 301.5,128" stroke="#2ea58a"/>
<path d="M62.5,295.3 63,295.28 63.5,295.27 64,295.25 64.5,295.24 65,295.23 65.5,295.21 66,295.2 66.5,295.18 67,295.17 67.5,295.15 68,295.13 68.5,295.11 69,295.09 69.5,295.07 70,295.05 70.5,295.02 71,294.99 71.5,294.96 72,294.92 72.5,294.87 73,294.83 73.5,294.78 74,294.73 74.5,294.67 75,294.61 75.5,294.54 76,294.46 76.5,294.36 77,294.24 77.5,294.1 78,293.92 78.5,293.71 79,293.44 79.5,293.11 80,292.68 80.5,292.12 81,291.44 81.5,290.6 82,289.52 82.5,288.19 83,286.71 83.5,285.02 84,283.06 84.5,281.19 85,279.46 85.5,277.8 86,276.16 86.5,274.54 87,272.93 87.5,271.34 88,269.76 88.5,268.2 89,266.66 89.5,265.12 90,263.57 90.5,262.03 91,260.47 91.5,258.92 92,257.35 92.5,255.77 93,254.19 93.5,252.61 94,251.02 94.5,249.43 95,247.84 95.5,246.25 96,244.65 96.5,243.05 97,241.46 97.5,239.86 98,238.26 98.5,236.67 99,235.08 99.5,233.5 100,231.92 100.5,230.34 101,228.76 101.5,227.19 102,225.63 102.5,224.08 103,222.55 103.5,221.05 104,219.57 104.5,218.09 105,216.57 105.5,214.97 106,213.21 106.5,211.3 107,209.28 107.5,207.16 108,205.09 108.5,203.02 109,200.95 109.5,198.97 110,197.05 110.5,195.17 111,193.29 111.5,191.4 112,189.48 112.5,187.52 113,185.53 113.5,183.51 114,181.45 114.5,179.35 115,177.23 115.5,175.04 116,172.77 116.5,170.45 117,168.09 117.5,165.74 118,163.42 118.5,161.16 119,159.02 119.5,156.96 120,154.97 120.5,153 121,151.03 121.5,149 122,146.83 122.5,144.56 123,142.36 123.5,140.26 124,138.01 124.5,135.51 125,124.64 125.5,121.78 126,119.39 126.5,117.18 127,115.08 127.5,113 128,110.97 128.5,109.12 129,107.61 129.5,106.6 130,106.1 130.5,106 131,106.09 131.5,106.21 132,106.35 132.5,106.59 133,106.71 133.5,106.81 134,107.02 134.5,107.35 135,107.79 135.5,108.34 136,109 136.5,109.74 137,110.55 137.5,111.43 138,112.37 138.5,113.37 139,114.41 139.5,115.46 140,116.5 140.5,117.56 141,118.62 141.5,119.68 142,120.74 142.5,121.75 143,122.75 143.5,123.8 144,124.87 144.5,125.79 145,126.46 145.5,126.95 146,127.31 146.5,127.54 147,127.7 147.5,127.8 148,127.89 148.5,127.97 149,128.07 149.5,128.19 150,128.34 150.5,128.61 151,128.89 151.5,129.16 152,129.43 152.5,129.7 153,129.97 153.5,130.23 154,130.49 154.5,130.74 155,130.99 155.5,131.24 156,131.48 156.5,131.7 157,131.92 157.5,132.13 158,132.34 158.5,132.56 159,132.81 159.5,133.09 160,133.38 160.5,133.66 161,133.91 161.5,134.09 162,134.19 162.5,134.21 163,134.14 163.5,133.96 164,133.67 164.5,133.31 165,132.9 165.5,132.45 166,131.99 166.5,131.53 167,131.1 167.5,130.71 168,130.38 168.5,130.14 169,130.02 169.5,130.04 170,130.15 170.5,130.36 171,130.68 171.5,131.08 172,131.56 172.5,132.1 173,132.67 173.5,133.25 174,133.83 174.5,134.42 175,135.04 175.5,135.69 176,136.35 176.5,137.02 177,137.7 177.5,138.37 178,139.04 178.5,139.68 179,140.31 179.5,140.9 180,141.47 180.5,142.01 181,142.54 181.5,143.04 182,143.51 182.5,143.97 183,144.4 183.5,144.81 184,145.19 184.5,145.54 185,145.85 185.5,146.18 186,146.49 186.5,146.78 187,147.05 187.5,147.3 188,147.53 188.5,147.74 189,147.92 189.5,148.09 190,148.25 190.5,148.39 191,148.5 191.5,148.59 192,148.65 192.5,148.7 193,148.72 193.5,148.74 194,148.74 194.5,148.73 195,148.73 195.5,148.72 196,148.72 196.5,148.7 197,148.68 197.5,148.64 198,148.59 198.5,148.53 199,148.47 199.5,148.4 200,148.33 200.5,148.25 201,148.17 201.5,148.09 202,148.01 202.5,147.93 203,147.85 203.5,147.77 204,147.69 204.5,147.61 205,147.51 205.5,147.39 206,147.26 206.5,147.12 207,146.95 207.5,146.77 208,146.58 208.5,146.35 209,146.09 209.5,145.81 210,145.51 210.5,145.2 211,144.89 211.5,144.6 212,144.31 212.5,144.05 213,143.82 213.5,143.63 214,143.49 214.5,143.39 215,143.33 215.5,143.3 216,143.29 216.5,143.31 217,143.35 217.5,143.4 218,143.46 218.5,143.52 219,143.59 219.5,143.65 220,143.71 220.5,143.77 221,143.86 221.5,143.98 222,144.11 222.5,144.26 223,144.39 223.5,144.51 224,144.6 224.5,144.66 225,144.68 225.5,144.65 226,144.59 226.5,144.48 227,144.35 227.5,144.19 228,144.02 228.5,143.83 229,143.64 229.5,143.43 230,143.21 230.5,143 231,142.78 231.5,142.56 232,142.34 232.5,142.13 233,141.92 233.5,141.72 234,141.52 234.5,141.33 235,141.13 235.5,140.84 236,140.56 236.5,140.27 237,139.99 237.5,139.71 238,139.44 238.5,139.18 239,138.94 239.5,138.71 240,138.49 240.5,138.28 241,138.07 241.5,137.86 242,137.66 242.5,137.46 243,137.27 243.5,137.07 244,136.88 244.5,136.69 245,136.49 245.5,136.3 246,136.1 246.5,135.92 247,135.75 247.5,135.58 248,135.43 248.5,135.25 249,135.09 249.5,134.92 250,134.77 250.5,134.61 251,134.46 251.5,134.31 252,134.16 252.5,134.01 253,133.86 253.5,133.7 254,133.55 254.5,133.4 255,133.26 255.5,133.11 256,132.96 256.5,132.82 257,132.68 257.5,132.54 258,132.41 258.5,132.29 259,132.17 259.5,132.06 260,131.97 260.5,131.87 261,131.79 261.5,131.71 262,131.63 262.5,131.55 263,131.47 263.5,131.4 264,131.31 264.5,131.22 265,131.12 265.5,131.02 266,130.93 266.5,130.85 267,130.78 267.5,130.73 268,130.69 268.5,130.66 269,130.64 269.5,130.62 270,130.6 270.5,130.59 271,130.58 271.5,130.57 272,130.56 272.5,130.55 273,130.55 273.5,130.54 274,130.53 274.5,130.52 275,130.51 275.5,130.5 276,130.49 276.5,130.47 277,130.45 277.5,130.43 278,130.41 278.5,130.39 279,130.36 279.5,130.34 280,130.31 280.5,130.28 281,130.26 281.5,130.23 282,130.2 282.5,130.16 283,130.13 283.5,130.1 284,130.06 284.5,130.03 285,129.99 285.5,129.94 286,129.9 286.5,129.85 287,129.8 287.5,129.75 288,129.7 288.5,129.64 289,129.59 289.5,129.53 290,129.48 290.5,129.42 291,129.36 291.5,129.3 292,129.24 292.5,129.18 293,129.12 293.5,129.05 294,128.99 294.5,128.93 295,128.86 295.5,128.8 296,128.73 296.5,128.66 297,128.6 297.5,128.53 298,128.46 298.5,128.39 299,128.33 299.5,128.26 300,128.19 300.5,128.13 301,128.06 301.5,128" stroke="#36a9c6"/>
<path d="M62.5,295.3 63,295.28 63.5,295.27 64,295.25 64.5,295.24 65,295.23 65.5,295.21 66,295.2 66.5,295.18 67,295.17 67.5,295.15 68,295.13 68.5,295.11 69,295.09 69.5,295.07 70,295.05 70.5,295.02 71,294.99 71.5,294.95 72,294.91 72.5,294.87 73,294.82 73.5,294.77 74,294.72 74.5,294.66 75,294.6 75.5,294.52 76,294.44 76.5,294.34 77,294.21 77.5,294.06 78,293.88 78.5,293.66 79,293.39 79.5,293.04 80,292.59 80.5,292 81,291.29 81.5,290.41 82,289.27 82.5,287.87 83,286.3 83.5,284.51 84,282.44 84.5,280.46 85,278.62 85.5,276.87 86,275.14 86.5,273.42 87,271.71 87.5,270.02 88,268.34 88.5,266.67 89,265.01 89.5,263.35 90,261.68 90.5,260.02 91,258.35 91.5,256.67 92,254.99 92.5,253.31 93,251.62 93.5,249.93 94,248.24 94.5,246.54 95,244.85 95.5,243.15 96,241.45 96.5,239.75 97,238.04 97.5,236.34 98,234.64 98.5,232.95 99,231.25 99.5,229.56 100,227.88 100.5,226.2 101,224.53 101.5,222.86 102,221.2 102.5,219.57 103,217.96 103.5,216.39 104,214.84 104.5,213.31 105,211.75 105.5,210.13 106,208.4 106.5,206.57 107,204.67 107.5,202.7 108,200.77 108.5,198.84 109,196.9 109.5,195.01 110,193.15 110.5,191.32 111,189.47 111.5,187.58 112,185.67 112.5,183.71 113,181.72 113.5,179.69 114,177.63 114.5,175.54 115,173.43 115.5,171.25 116,168.99 116.5,166.68 117,164.35 117.5,162.02 118,159.73 118.5,157.52 119,155.43 119.5,153.43 120,151.51 120.5,149.64 121,147.76 121.5,145.83 122,143.74 122.5,141.56 123,139.46 123.5,137.53 124,135.64 124.5,133.75 125,126.06 125.5,123.78 126,121.82 126.5,119.96 127,118.18 127.5,116.41 128,114.65 128.5,113.03 129,111.67 129.5,110.69 130,110.14 130.5,109.91 131,109.85 131.5,109.83 132,109.84 132.5,109.95 133,109.93 133.5,109.86 134,109.92 134.5,110.09 135,110.37 135.5,110.76 136,111.26 136.5,111.83 137,112.48 137.5,113.2 138,113.99 138.5,114.84 139,115.74 139.5,116.66 140,117.58 140.5,118.52 141,119.47 141.5,120.43 142,121.39 142.5,122.31 143,123.23 143.5,124.21 144,125.21 144.5,126.07 145,126.7 145.5,127.17 146,127.5 146.5,127.72 147,127.87 147.5,127.97 148,128.05 148.5,128.13 149,128.22 149.5,128.33 150,128.47 150.5,128.74 151,129.02 151.5,129.29 152,129.56 152.5,129.83 153,130.09 153.5,130.35 154,130.61 154.5,130.86 155,131.11 155.5,131.35 156,131.59 156.5,131.82 157,132.04 157.5,132.25 158,132.46 158.5,132.69 159,132.94 159.5,133.21 160,133.5 160.5,133.78 161,134.02 161.5,134.21 162,134.32 162.5,134.34 163,134.29 163.5,134.14 164,133.89 164.5,133.58 165,133.21 165.5,132.82 166,132.41 166.5,132.01 167,131.63 167.5,131.29 168,131.01 168.5,130.81 169,130.72 169.5,130.76 170,130.88 170.5,131.09 171,131.39 171.5,131.78 172,132.24 172.5,132.75 173,133.29 173.5,133.84 174,134.38 174.5,134.93 175,135.51 175.5,136.12 176,136.73 176.5,137.36 177,137.99 177.5,138.61 178,139.23 178.5,139.83 179,140.4 179.5,140.95 180,141.47 180.5,141.97 181,142.46 181.5,142.92 182,143.34 182.5,143.76 183,144.14 183.5,144.49 184,144.82 184.5,145.11 185,145.37 185.5,145.64 186,145.89 186.5,146.13 187,146.35 187.5,146.55 188,146.73 188.5,146.89 189,147.04 189.5,147.17 190,147.29 190.5,147.4 191,147.49 191.5,147.55 192,147.59 192.5,147.61 193,147.61 193.5,147.61 194,147.59 194.5,147.57 195,147.54 195.5,147.52 196,147.5 196.5,147.48 197,147.44 197.5,147.39 198,147.33 198.5,147.27 199,147.2 199.5,147.13 200,147.05 200.5,146.98 201,146.9 201.5,146.82 202,146.74 202.5,146.66 203,146.58 203.5,146.5 204,146.42 204.5,146.34 205,146.24 205.5,146.14 206,146.01 206.5,145.87 207,145.72 207.5,145.55 208,145.37 208.5,145.16 209,144.92 209.5,144.66 210,144.38 210.5,144.1 211,143.81 211.5,143.54 212,143.27 212.5,143.03 213,142.82 213.5,142.65 214,142.51 214.5,142.42 215,142.37 215.5,142.34 216,142.34 216.5,142.36 217,142.39 217.5,142.44 218,142.5 218.5,142.56 219,142.62 219.5,142.68 220,142.74 220.5,142.79 221,142.88 221.5,143 222,143.12 222.5,143.26 223,143.39 223.5,143.5 224,143.59 224.5,143.65 225,143.67 225.5,143.65 226,143.6 226.5,143.51 227,143.39 227.5,143.26 228,143.1 228.5,142.94 229,142.76 229.5,142.58 230,142.39 230.5,142.19 231,142 231.5,141.81 232,141.62 232.5,141.44 233,141.25 233.5,141.08 234,140.91 234.5,140.74 235,140.57 235.5,140.31 236,140.05 236.5,139.79 237,139.54 237.5,139.29 238,139.05 238.5,138.82 239,138.61 239.5,138.42 240,138.22 240.5,138.04 241,137.86 241.5,137.69 242,137.52 242.5,137.35 243,137.19 243.5,137.03 244,136.88 244.5,136.72 245,136.55 245.5,136.39 246,136.24 246.5,136.09 247,135.96 247.5,135.83 248,135.71 248.5,135.57 249,135.44 249.5,135.31 250,135.18 250.5,135.06 251,134.94 251.5,134.81 252,134.69 252.5,134.57 253,134.44 253.5,134.32 254,134.19 254.5,134.07 255,133.95 255.5,133.82 256,133.7 256.5,133.58 257,133.46 257.5,133.34 258,133.23 258.5,133.13 259,133.03 259.5,132.93 260,132.85 260.5,132.77 261,132.69 261.5,132.61 262,132.54 262.5,132.47 263,132.4 263.5,132.33 264,132.25 264.5,132.16 265,132.07 265.5,131.98 266,131.89 266.5,131.81 267,131.75 267.5,131.7 268,131.65 268.5,131.61 269,131.58 269.5,131.55 270,131.53 270.5,131.5 271,131.48 271.5,131.46 272,131.44 272.5,131.42 273,131.4 273.5,131.38 274,131.36 274.5,131.34 275,131.32 275.5,131.29 276,131.27 276.5,131.24 277,131.21 277.5,131.18 278,131.14 278.5,131.11 279,131.07 279.5,131.03 280,130.99 280.5,130.95 281,130.91 281.5,130.87 282,130.82 282.5,130.78 283,130.73 283.5,130.69 284,130.64 284.5,130.59 285,130.53 285.5,130.47 286,130.41 286.5,130.35 287,130.29 287.5,130.22 288,130.16 288.5,130.09 289,130.02 289.5,129.94 290,129.87 290.5,129.8 291,129.72 291.5,129.65 292,129.57 292.5,129.49 293,129.41 293.5,129.33 294,129.25 294.5,129.17 295,129.09 295.5,129.01 296,128.92 296.5,128.84 297,128.75 297.5,128.67 298,128.58 298.5,128.5 299,128.41 299.5,128.33 300,128.24 300.5,128.16 301,128.08 301.5,128" stroke="#3f86d0"/>
<path d="M62.5,295.3 63,295.28 63.5,295.27 64,295.25 64.5,295.24 65,295.23 65.5,295.21 66,295.2 66.5,295.18 67,295.17 67.5,295.15 68,295.13 68.5,295.11 69,295.09 69.5,295.07 70,295.04 70.5,295.02 71,294.98 71.5,294.95 72,294.91 72.5,294.86 73,294.81 73.5,294.76 74,294.7 74.5,294.65 75,294.58 75.5,294.5 76,294.41 76.5,294.31 77,294.18 77.5,294.03 78,293.84 78.5,293.61 79,293.33 79.5,292.97 80,292.5 80.5,291.89 81,291.14 81.5,290.23 82,289.03 82.5,287.54 83,285.9 83.5,284.02 84,281.83 84.5,279.74 85,277.81 85.5,275.96 86,274.13 86.5,272.32 87,270.52 87.5,268.72 88,266.94 88.5,265.16 89,263.38 89.5,261.61 90,259.83 90.5,258.04 91,256.26 91.5,254.47 92,252.68 92.5,250.89 93,249.09 93.5,247.29 94,245.5 94.5,243.7 95,241.9 95.5,240.1 96,238.3 96.5,236.49 97,234.69 97.5,232.88 98,231.08 98.5,229.28 99,227.48 99.5,225.69 100,223.91 100.5,222.13 101,220.36 101.5,218.59 102,216.85 102.5,215.13 103,213.45 103.5,211.8 104,210.19 104.5,208.6 105,207 105.5,205.37 106,203.66 106.5,201.91 107,200.13 107.5,198.32 108,196.52 108.5,194.72 109,192.91 109.5,191.12 110,189.33 110.5,187.53 111,185.7 111.5,183.84 112,181.92 112.5,179.97 113,177.98 113.5,175.95 114,173.88 114.5,171.79 115,169.68 115.5,167.52 116,165.28 116.5,162.99 117,160.67 117.5,158.37 118,156.11 118.5,153.94 119,151.9 119.5,149.96 120,148.12 120.5,146.33 121,144.55 121.5,142.71 122,140.7 122.5,138.6 123,136.61 123.5,134.86 124,133.3 124.5,132.01 125,127.45 125.5,125.74 126,124.2 126.5,122.7 127,121.24 127.5,119.76 128,118.27 128.5,116.87 129,115.65 129.5,114.72 130,114.1 130.5,113.75 131,113.55 131.5,113.39 132,113.28 132.5,113.26 133,113.09 133.5,112.86 134,112.77 134.5,112.78 135,112.91 135.5,113.14 136,113.47 136.5,113.89 137,114.38 137.5,114.95 138,115.58 138.5,116.29 139,117.04 139.5,117.83 140,118.63 140.5,119.46 141,120.3 141.5,121.17 142,122.03 142.5,122.87 143,123.71 143.5,124.61 144,125.54 144.5,126.34 145,126.94 145.5,127.38 146,127.69 146.5,127.9 147,128.04 147.5,128.13 148,128.2 148.5,128.28 149,128.36 149.5,128.47 150,128.6 150.5,128.87 151,129.15 151.5,129.42 152,129.69 152.5,129.95 153,130.21 153.5,130.47 154,130.73 154.5,130.98 155,131.22 155.5,131.47 156,131.7 156.5,131.93 157,132.16 157.5,132.37 158,132.59 158.5,132.81 159,133.07 159.5,133.34 160,133.62 160.5,133.9 161,134.14 161.5,134.33 162,134.44 162.5,134.48 163,134.45 163.5,134.33 164,134.12 164.5,133.85 165,133.54 165.5,133.2 166,132.86 166.5,132.51 167,132.19 167.5,131.91 168,131.68 168.5,131.52 169,131.47 169.5,131.52 170,131.65 170.5,131.86 171,132.15 171.5,132.52 172,132.96 172.5,133.43 173,133.94 173.5,134.45 174,134.95 174.5,135.47 175,136.01 175.5,136.56 176,137.13 176.5,137.71 177,138.29 177.5,138.86 178,139.42 178.5,139.97 179,140.5 179.5,141 180,141.48 180.5,141.94 181,142.38 181.5,142.8 182,143.18 182.5,143.55 183,143.88 183.5,144.18 184,144.45 184.5,144.69 185,144.89 185.5,145.11 186,145.31 186.5,145.49 187,145.66 187.5,145.81 188,145.94 188.5,146.06 189,146.17 189.5,146.26 190,146.36 190.5,146.44 191,146.49 191.5,146.53 192,146.54 192.5,146.54 193,146.52 193.5,146.5 194,146.46 194.5,146.42 195,146.38 195.5,146.34 196,146.31 196.5,146.27 197,146.22 197.5,146.16 198,146.1 198.5,146.03 199,145.96 199.5,145.88 200,145.8 200.5,145.72 201,145.64 201.5,145.56 202,145.48 202.5,145.4 203,145.33 203.5,145.25 204,145.18 204.5,145.09 205,145 205.5,144.9 206,144.79 206.5,144.65 207,144.51 207.5,144.35 208,144.18 208.5,143.99 209,143.77 209.5,143.53 210,143.27 210.5,143.01 211,142.75 211.5,142.49 212,142.25 212.5,142.03 213,141.84 213.5,141.68 214,141.55 214.5,141.47 215,141.42 215.5,141.4 216,141.4 216.5,141.41 217,141.45 217.5,141.5 218,141.55 218.5,141.61 219,141.67 219.5,141.73 220,141.78 220.5,141.84 221,141.92 221.5,142.03 222,142.15 222.5,142.28 223,142.4 223.5,142.51 224,142.6 224.5,142.65 225,142.68 225.5,142.67 226,142.63 226.5,142.55 227,142.45 227.5,142.33 228,142.2 228.5,142.05 229,141.9 229.5,141.74 230,141.57 230.5,141.41 231,141.24 231.5,141.07 232,140.91 232.5,140.75 233,140.6 233.5,140.45 234,140.31 234.5,140.17 235,140.03 235.5,139.79 236,139.55 236.5,139.32 237,139.1 237.5,138.88 238,138.67 238.5,138.47 239,138.29 239.5,138.12 240,137.96 240.5,137.81 241,137.66 241.5,137.52 242,137.38 242.5,137.25 243,137.12 243.5,136.99 244,136.87 244.5,136.74 245,136.62 245.5,136.49 246,136.37 246.5,136.26 247,136.16 247.5,136.07 248,135.99 248.5,135.89 249,135.79 249.5,135.69 250,135.59 250.5,135.5 251,135.4 251.5,135.31 252,135.21 252.5,135.12 253,135.02 253.5,134.92 254,134.82 254.5,134.73 255,134.63 255.5,134.53 256,134.43 256.5,134.33 257,134.23 257.5,134.13 258,134.04 258.5,133.95 259,133.87 259.5,133.79 260,133.71 260.5,133.64 261,133.57 261.5,133.51 262,133.44 262.5,133.38 263,133.31 263.5,133.25 264,133.17 264.5,133.09 265,133.01 265.5,132.92 266,132.84 266.5,132.76 267,132.7 267.5,132.64 268,132.59 268.5,132.55 269,132.51 269.5,132.47 270,132.44 270.5,132.4 271,132.37 271.5,132.34 272,132.31 272.5,132.28 273,132.25 273.5,132.21 274,132.18 274.5,132.15 275,132.11 275.5,132.07 276,132.03 276.5,131.99 277,131.95 277.5,131.91 278,131.86 278.5,131.81 279,131.76 279.5,131.71 280,131.66 280.5,131.6 281,131.55 281.5,131.49 282,131.44 282.5,131.38 283,131.32 283.5,131.26 284,131.2 284.5,131.14 285,131.07 285.5,131 286,130.92 286.5,130.85 287,130.77 287.5,130.69 288,130.61 288.5,130.52 289,130.44 289.5,130.35 290,130.26 290.5,130.17 291,130.08 291.5,129.99 292,129.89 292.5,129.8 293,129.7 293.5,129.61 294,129.51 294.5,129.41 295,129.31 295.5,129.21 296,129.11 296.5,129.01 297,128.91 297.5,128.81 298,128.7 298.5,128.6 299,128.5 299.5,128.4 300,128.29 300.5,128.19 301,128.1 301.5,128" stroke="#2f58b8"/>
<path d="M62.5,295.3 63,295.28 63.5,295.27 64,295.25 64.5,295.24 65,295.22 65.5,295.21 66,295.2 66.5,295.18 67,295.16 67.5,295.15 68,295.13 68.5,295.11 69,295.09 69.5,295.07 70,295.04 70.5,295.01 71,294.98 71.5,294.94 72,294.9 72.5,294.85 73,294.8 73.5,294.75 74,294.69 74.5,294.63 75,294.56 75.5,294.48 76,294.39 76.5,294.28 77,294.15 77.5,293.99 78,293.8 78.5,293.56 79,293.27 79.5,292.9 80,292.41 80.5,291.78 81,291 81.5,290.04 82,288.79 82.5,287.23 83,285.5 83.5,283.53 84,281.23 84.5,279.03 85,277 85.5,275.06 86,273.14 86.5,271.23 87,269.34 87.5,267.45 88,265.56 88.5,263.67 89,261.79 89.5,259.9 90,258 90.5,256.1 91,254.2 91.5,252.3 92,250.4 92.5,248.5 93,246.6 93.5,244.7 94,242.8 94.5,240.9 95,239 95.5,237.1 96,235.19 96.5,233.29 97,231.38 97.5,229.48 98,227.57 98.5,225.67 99,223.77 99.5,221.88 100,220 100.5,218.13 101,216.26 101.5,214.4 102,212.57 102.5,210.77 103,209 103.5,207.28 104,205.61 104.5,203.97 105,202.33 105.5,200.68 106,199 106.5,197.32 107,195.66 107.5,194 108,192.34 108.5,190.67 109,188.98 109.5,187.28 110,185.56 110.5,183.8 111,182 111.5,180.14 112,178.24 112.5,176.29 113,174.29 113.5,172.26 114,170.19 114.5,168.1 115,166 115.5,163.85 116,161.62 116.5,159.34 117,157.05 117.5,154.77 118,152.54 118.5,150.41 119,148.42 119.5,146.55 120,144.78 120.5,143.07 121,141.38 121.5,139.64 122,137.71 122.5,135.68 123,133.8 123.5,132.22 124,131 124.5,130.3 125,128.82 125.5,127.68 126,126.55 126.5,125.4 127,124.24 127.5,123.05 128,121.83 128.5,120.65 129,119.58 129.5,118.69 130,118.01 130.5,117.54 131,117.19 131.5,116.89 132,116.66 132.5,116.51 133,116.2 133.5,115.82 134,115.57 134.5,115.43 135,115.41 135.5,115.48 136,115.66 136.5,115.92 137,116.25 137.5,116.66 138,117.15 138.5,117.71 139,118.33 139.5,118.99 140,119.67 140.5,120.38 141,121.13 141.5,121.89 142,122.67 142.5,123.42 143,124.18 143.5,125.01 144,125.87 144.5,126.62 145,127.17 145.5,127.58 146,127.88 146.5,128.08 147,128.2 147.5,128.29 148,128.36 148.5,128.43 149,128.51 149.5,128.6 150,128.73 150.5,129 151,129.27 151.5,129.54 152,129.81 152.5,130.08 153,130.34 153.5,130.59 154,130.85 154.5,131.09 155,131.34 155.5,131.58 156,131.81 156.5,132.04 157,132.27 157.5,132.5 158,132.71 158.5,132.94 159,133.19 159.5,133.47 160,133.75 160.5,134.02 161,134.26 161.5,134.45 162,134.57 162.5,134.63 163,134.62 163.5,134.53 164,134.37 164.5,134.14 165,133.89 165.5,133.61 166,133.32 166.5,133.05 167,132.79 167.5,132.56 168,132.39 168.5,132.27 169,132.25 169.5,132.32 170,132.46 170.5,132.67 171,132.95 171.5,133.3 172,133.71 172.5,134.15 173,134.62 173.5,135.09 174,135.55 174.5,136.03 175,136.52 175.5,137.03 176,137.55 176.5,138.07 177,138.59 177.5,139.11 178,139.62 178.5,140.12 179,140.6 179.5,141.06 180,141.49 180.5,141.9 181,142.3 181.5,142.68 182,143.03 182.5,143.34 183,143.63 183.5,143.88 184,144.09 184.5,144.27 185,144.42 185.5,144.58 186,144.73 186.5,144.86 187,144.98 187.5,145.08 188,145.17 188.5,145.25 189,145.31 189.5,145.37 190,145.43 190.5,145.48 191,145.51 191.5,145.52 192,145.51 192.5,145.48 193,145.45 193.5,145.4 194,145.35 194.5,145.29 195,145.24 195.5,145.18 196,145.14 196.5,145.08 197,145.02 197.5,144.96 198,144.88 198.5,144.81 199,144.73 199.5,144.65 200,144.57 200.5,144.49 201,144.41 201.5,144.33 202,144.25 202.5,144.17 203,144.1 203.5,144.02 204,143.95 204.5,143.87 205,143.78 205.5,143.68 206,143.58 206.5,143.45 207,143.32 207.5,143.17 208,143.02 208.5,142.84 209,142.64 209.5,142.41 210,142.18 210.5,141.94 211,141.7 211.5,141.47 212,141.25 212.5,141.05 213,140.87 213.5,140.72 214,140.61 214.5,140.54 215,140.49 215.5,140.47 216,140.47 216.5,140.49 217,140.52 217.5,140.57 218,140.62 218.5,140.67 219,140.73 219.5,140.79 220,140.84 220.5,140.89 221,140.97 221.5,141.08 222,141.19 222.5,141.31 223,141.43 223.5,141.53 224,141.62 224.5,141.68 225,141.7 225.5,141.7 226,141.67 226.5,141.61 227,141.52 227.5,141.42 228,141.31 228.5,141.18 229,141.05 229.5,140.91 230,140.77 230.5,140.63 231,140.49 231.5,140.35 232,140.21 232.5,140.08 233,139.95 233.5,139.83 234,139.72 234.5,139.61 235,139.49 235.5,139.28 236,139.07 236.5,138.86 237,138.66 237.5,138.47 238,138.29 238.5,138.12 239,137.97 239.5,137.83 240,137.7 240.5,137.58 241,137.46 241.5,137.35 242,137.24 242.5,137.14 243,137.04 243.5,136.95 244,136.86 244.5,136.77 245,136.67 245.5,136.58 246,136.5 246.5,136.43 247,136.37 247.5,136.31 248,136.27 248.5,136.2 249,136.13 249.5,136.06 250,135.99 250.5,135.93 251,135.86 251.5,135.8 252,135.73 252.5,135.66 253,135.59 253.5,135.52 254,135.45 254.5,135.37 255,135.3 255.5,135.22 256,135.14 256.5,135.07 257,134.99 257.5,134.91 258,134.84 258.5,134.77 259,134.7 259.5,134.63 260,134.57 260.5,134.51 261,134.45 261.5,134.39 262,134.33 262.5,134.27 263,134.21 263.5,134.15 264,134.08 264.5,134.01 265,133.93 265.5,133.85 266,133.77 266.5,133.69 267,133.63 267.5,133.57 268,133.52 268.5,133.47 269,133.42 269.5,133.38 270,133.33 270.5,133.29 271,133.25 271.5,133.21 272,133.16 272.5,133.12 273,133.08 273.5,133.03 274,132.99 274.5,132.94 275,132.89 275.5,132.84 276,132.79 276.5,132.74 277,132.68 277.5,132.62 278,132.56 278.5,132.5 279,132.44 279.5,132.38 280,132.31 280.5,132.25 281,132.18 281.5,132.11 282,132.04 282.5,131.97 283,131.9 283.5,131.83 284,131.76 284.5,131.68 285,131.6 285.5,131.51 286,131.42 286.5,131.33 287,131.24 287.5,131.15 288,131.05 288.5,130.95 289,130.85 289.5,130.75 290,130.64 290.5,130.54 291,130.43 291.5,130.32 292,130.21 292.5,130.1 293,129.99 293.5,129.88 294,129.76 294.5,129.65 295,129.53 295.5,129.42 296,129.3 296.5,129.18 297,129.06 297.5,128.94 298,128.82 298.5,128.7 299,128.58 299.5,128.46 300,128.34 300.5,128.23 301,128.11 301.5,128" stroke="#1f2d92"/>
<path d="M62.5,295.3 63,295.28 63.5,295.26 64,295.25 64.5,295.23 65,295.22 65.5,295.2 66,295.19 66.5,295.17 67,295.15 67.5,295.14 68,295.12 68.5,295.1 69,295.07 69.5,295.05 70,295.02 70.5,294.99 71,294.96 71.5,294.92 72,294.88 72.5,294.82 73,294.77 73.5,294.72 74,294.66 74.5,294.6 75,294.52 75.5,294.44 76,294.35 76.5,294.23 77,294.1 77.5,293.93 78,293.73 78.5,293.47 79,293.17 79.5,292.77 80,292.25 80.5,291.58 81,290.75 81.5,289.73 82,288.39 82.5,286.72 83,284.88 83.5,282.78 84,280.35 84.5,277.98 85,275.75 85.5,273.61 86,271.49 86.5,269.39 87,267.29 87.5,265.22 88,263.13 88.5,261.03 89,258.94 89.5,256.93 90,255 90.5,253.17 91,251.39 91.5,249.66 92,247.96 92.5,246.27 93,244.57 93.5,242.9 94,241.25 94.5,239.61 95,237.98 95.5,236.33 96,234.65 96.5,232.93 97,231.2 97.5,229.44 98,227.67 98.5,225.89 99,224.12 99.5,222.33 100,220.55 100.5,218.76 101,216.97 101.5,215.19 102,213.42 102.5,211.68 103,209.97 103.5,208.29 104,206.64 104.5,205 105,203.36 105.5,201.69 106,200 106.5,198.29 107,196.59 107.5,194.88 108,193.16 108.5,191.44 109,189.7 109.5,187.94 110,186.16 110.5,184.35 111,182.5 111.5,180.6 112,178.66 112.5,176.67 113,174.64 113.5,172.58 114,170.48 114.5,168.37 115,166.25 115.5,164.09 116,161.86 116.5,159.59 117,157.3 117.5,155.03 118,152.8 118.5,150.66 119,148.64 119.5,146.73 120,144.91 120.5,143.15 121,141.41 121.5,139.64 122,137.69 122.5,135.65 123,133.77 123.5,132.21 124,131 124.5,130.26 125,128.97 125.5,127.97 126,127 126.5,126.04 127,125.08 127.5,124.11 128,123.12 128.5,122.18 129,121.33 129.5,120.63 130,120.09 130.5,119.72 131,119.45 131.5,119.23 132,119.05 132.5,118.95 133,118.73 133.5,118.48 134,118.33 134.5,118.28 135,118.32 135.5,118.44 136,118.63 136.5,118.89 137,119.19 137.5,119.55 138,119.96 138.5,120.43 139,120.95 139.5,121.5 140,122.06 140.5,122.64 141,123.25 141.5,123.87 142,124.5 142.5,125.11 143,125.74 143.5,126.4 144,127.09 144.5,127.7 145,128.16 145.5,128.51 146,128.78 146.5,128.97 147,129.11 147.5,129.22 148,129.32 148.5,129.41 149,129.51 149.5,129.63 150,129.76 150.5,130.01 151,130.25 151.5,130.49 152,130.73 152.5,130.97 153,131.2 153.5,131.42 154,131.65 154.5,131.86 155,132.07 155.5,132.28 156,132.49 156.5,132.69 157,132.89 157.5,133.09 158,133.28 158.5,133.48 159,133.7 159.5,133.94 160,134.18 160.5,134.42 161,134.64 161.5,134.82 162,134.95 162.5,135.03 163,135.06 163.5,135.03 164,134.95 164.5,134.82 165,134.67 165.5,134.49 166,134.32 166.5,134.15 167,133.99 167.5,133.86 168,133.77 168.5,133.72 169,133.74 169.5,133.83 170,133.97 170.5,134.16 171,134.42 171.5,134.72 172,135.07 172.5,135.45 173,135.85 173.5,136.25 174,136.65 174.5,137.05 175,137.47 175.5,137.9 176,138.33 176.5,138.76 177,139.2 177.5,139.62 178,140.04 178.5,140.43 179,140.81 179.5,141.17 180,141.5 180.5,141.81 181,142.1 181.5,142.36 182,142.59 182.5,142.78 183,142.94 183.5,143.06 184,143.15 184.5,143.2 185,143.22 185.5,143.25 186,143.26 186.5,143.26 187,143.24 187.5,143.22 188,143.19 188.5,143.16 189,143.12 189.5,143.09 190,143.07 190.5,143.05 191,143.01 191.5,142.95 192,142.88 192.5,142.8 193,142.71 193.5,142.61 194,142.51 194.5,142.41 195,142.32 195.5,142.23 196,142.14 196.5,142.05 197,141.97 197.5,141.88 198,141.78 198.5,141.69 199,141.6 199.5,141.51 200,141.43 200.5,141.34 201,141.26 201.5,141.18 202,141.1 202.5,141.03 203,140.95 203.5,140.88 204,140.81 204.5,140.74 205,140.66 205.5,140.58 206,140.49 206.5,140.39 207,140.28 207.5,140.16 208,140.04 208.5,139.9 209,139.74 209.5,139.57 210,139.39 210.5,139.21 211,139.02 211.5,138.85 212,138.68 212.5,138.53 213,138.4 213.5,138.29 214,138.2 214.5,138.15 215,138.12 215.5,138.11 216,138.11 216.5,138.13 217,138.16 217.5,138.2 218,138.24 218.5,138.29 219,138.34 219.5,138.39 220,138.44 220.5,138.49 221,138.56 221.5,138.65 222,138.75 222.5,138.85 223,138.95 223.5,139.04 224,139.12 224.5,139.18 225,139.22 225.5,139.24 226,139.23 226.5,139.2 227,139.16 227.5,139.1 228,139.04 228.5,138.97 229,138.89 229.5,138.81 230,138.73 230.5,138.65 231,138.57 231.5,138.5 232,138.43 232.5,138.36 233,138.31 233.5,138.25 234,138.21 234.5,138.17 235,138.12 235.5,138 236,137.89 236.5,137.78 237,137.67 237.5,137.57 238,137.48 238.5,137.4 239,137.33 239.5,137.27 240,137.21 240.5,137.16 241,137.11 241.5,137.06 242,137.01 242.5,136.97 243,136.93 243.5,136.89 244,136.85 244.5,136.8 245,136.76 245.5,136.71 246,136.67 246.5,136.63 247,136.6 247.5,136.58 248,136.57 248.5,136.53 249,136.5 249.5,136.46 250,136.43 250.5,136.39 251,136.36 251.5,136.32 252,136.28 252.5,136.24 253,136.2 253.5,136.15 254,136.1 254.5,136.06 255,136.01 255.5,135.95 256,135.9 256.5,135.84 257,135.79 257.5,135.73 258,135.67 258.5,135.62 259,135.56 259.5,135.51 260,135.46 260.5,135.4 261,135.35 261.5,135.3 262,135.25 262.5,135.19 263,135.14 263.5,135.08 264,135.01 264.5,134.94 265,134.87 265.5,134.79 266,134.72 266.5,134.64 267,134.58 267.5,134.51 268,134.46 268.5,134.4 269,134.34 269.5,134.29 270,134.23 270.5,134.18 271,134.13 271.5,134.07 272,134.02 272.5,133.96 273,133.9 273.5,133.84 274,133.78 274.5,133.72 275,133.66 275.5,133.6 276,133.53 276.5,133.46 277,133.4 277.5,133.33 278,133.25 278.5,133.18 279,133.1 279.5,133.03 280,132.95 280.5,132.87 281,132.79 281.5,132.71 282,132.63 282.5,132.54 283,132.46 283.5,132.37 284,132.28 284.5,132.19 285,132.1 285.5,132 286,131.9 286.5,131.79 287,131.68 287.5,131.58 288,131.46 288.5,131.35 289,131.23 289.5,131.12 290,131 290.5,130.88 291,130.76 291.5,130.63 292,130.51 292.5,130.38 293,130.25 293.5,130.13 294,130 294.5,129.87 295,129.73 295.5,129.6 296,129.47 296.5,129.33 297,129.2 297.5,129.07 298,128.93 298.5,128.79 299,128.66 299.5,128.52 300,128.39 300.5,128.26 301,128.13 301.5,128" stroke="#3a2390"/>
<path d="M62.5,295.3 63,295.28 63.5,295.26 64,295.25 64.5,295.23 65,295.21 65.5,295.2 66,295.18 66.5,295.16 67,295.15 67.5,295.13 68,295.11 68.5,295.08 69,295.06 69.5,295.03 70,295.01 70.5,294.97 71,294.94 71.5,294.9 72,294.85 72.5,294.8 73,294.74 73.5,294.69 74,294.63 74.5,294.56 75,294.49 75.5,294.4 76,294.3 76.5,294.18 77,294.04 77.5,293.87 78,293.65 78.5,293.38 79,293.06 79.5,292.64 80,292.1 80.5,291.38 81,290.5 81.5,289.42 82,287.99 82.5,286.22 83,284.25 83.5,282.03 84,279.47 84.5,276.92 85,274.5 85.5,272.17 86,269.85 86.5,267.54 87,265.25 87.5,262.98 88,260.71 88.5,258.38 89,256.1 89.5,253.95 90,252 90.5,250.23 91,248.59 91.5,247.03 92,245.52 92.5,244.03 93,242.55 93.5,241.1 94,239.7 94.5,238.33 95,236.95 95.5,235.56 96,234.1 96.5,232.57 97,231.01 97.5,229.4 98,227.77 98.5,226.12 99,224.46 99.5,222.78 100,221.09 100.5,219.4 101,217.69 101.5,215.98 102,214.28 102.5,212.6 103,210.94 103.5,209.29 104,207.67 104.5,206.04 105,204.39 105.5,202.71 106,201 106.5,199.26 107,197.52 107.5,195.76 108,193.99 108.5,192.21 109,190.41 109.5,188.59 110,186.76 110.5,184.9 111,183 111.5,181.06 112,179.08 112.5,177.05 113,174.99 113.5,172.89 114,170.77 114.5,168.64 115,166.5 115.5,164.33 116,162.1 116.5,159.83 117,157.56 117.5,155.29 118,153.07 118.5,150.92 119,148.87 119.5,146.92 120,145.04 120.5,143.23 121,141.44 121.5,139.63 122,137.67 122.5,135.62 123,133.74 123.5,132.19 124,131 124.5,130.21 125,129.12 125.5,128.26 126,127.45 126.5,126.68 127,125.92 127.5,125.17 128,124.42 128.5,123.71 129,123.08 129.5,122.56 130,122.18 130.5,121.91 131,121.71 131.5,121.56 132,121.45 132.5,121.4 133,121.27 133.5,121.14 134,121.1 134.5,121.13 135,121.24 135.5,121.4 136,121.61 136.5,121.85 137,122.13 137.5,122.43 138,122.78 138.5,123.16 139,123.57 139.5,124 140,124.44 140.5,124.9 141,125.37 141.5,125.85 142,126.34 142.5,126.81 143,127.29 143.5,127.79 144,128.31 144.5,128.78 145,129.15 145.5,129.44 146,129.68 146.5,129.87 147,130.02 147.5,130.15 148,130.27 148.5,130.39 149,130.52 149.5,130.65 150,130.8 150.5,131.02 151,131.23 151.5,131.45 152,131.66 152.5,131.86 153,132.06 153.5,132.26 154,132.45 154.5,132.63 155,132.81 155.5,132.99 156,133.17 156.5,133.34 157,133.51 157.5,133.68 158,133.85 158.5,134.02 159,134.21 159.5,134.41 160,134.62 160.5,134.83 161,135.02 161.5,135.19 162,135.33 162.5,135.43 163,135.5 163.5,135.53 164,135.53 164.5,135.49 165,135.44 165.5,135.38 166,135.31 166.5,135.25 167,135.2 167.5,135.16 168,135.15 168.5,135.17 169,135.23 169.5,135.34 170,135.48 170.5,135.66 171,135.88 171.5,136.15 172,136.44 172.5,136.76 173,137.09 173.5,137.42 174,137.75 174.5,138.08 175,138.42 175.5,138.77 176,139.11 176.5,139.46 177,139.8 177.5,140.13 178,140.45 178.5,140.75 179,141.03 179.5,141.28 180,141.52 180.5,141.72 181,141.9 181.5,142.05 182,142.15 182.5,142.22 183,142.25 183.5,142.24 184,142.2 184.5,142.12 185,142.02 185.5,141.91 186,141.79 186.5,141.65 187,141.51 187.5,141.36 188,141.22 188.5,141.07 189,140.94 189.5,140.82 190,140.72 190.5,140.61 191,140.5 191.5,140.38 192,140.25 192.5,140.11 193,139.96 193.5,139.82 194,139.68 194.5,139.53 195,139.4 195.5,139.27 196,139.14 196.5,139.03 197,138.91 197.5,138.79 198,138.68 198.5,138.58 199,138.48 199.5,138.38 200,138.29 200.5,138.2 201,138.11 201.5,138.03 202,137.95 202.5,137.88 203,137.81 203.5,137.74 204,137.68 204.5,137.61 205,137.55 205.5,137.48 206,137.4 206.5,137.32 207,137.24 207.5,137.15 208,137.06 208.5,136.96 209,136.85 209.5,136.73 210,136.6 210.5,136.47 211,136.35 211.5,136.23 212,136.12 212.5,136.01 213,135.92 213.5,135.85 214,135.8 214.5,135.76 215,135.75 215.5,135.74 216,135.75 216.5,135.77 217,135.79 217.5,135.82 218,135.86 218.5,135.91 219,135.95 219.5,135.99 220,136.04 220.5,136.09 221,136.15 221.5,136.22 222,136.3 222.5,136.39 223,136.47 223.5,136.55 224,136.63 224.5,136.69 225,136.73 225.5,136.77 226,136.79 226.5,136.79 227,136.79 227.5,136.78 228,136.77 228.5,136.75 229,136.73 229.5,136.71 230,136.69 230.5,136.67 231,136.65 231.5,136.65 232,136.64 232.5,136.65 233,136.66 233.5,136.67 234,136.7 234.5,136.72 235,136.75 235.5,136.73 236,136.71 236.5,136.7 237,136.68 237.5,136.68 238,136.67 238.5,136.68 239,136.69 239.5,136.7 240,136.72 240.5,136.73 241,136.75 241.5,136.77 242,136.79 242.5,136.8 243,136.82 243.5,136.83 244,136.84 244.5,136.84 245,136.84 245.5,136.83 246,136.83 246.5,136.84 247,136.84 247.5,136.85 248,136.87 248.5,136.87 249,136.87 249.5,136.86 250,136.86 250.5,136.86 251,136.85 251.5,136.84 252,136.83 252.5,136.82 253,136.8 253.5,136.79 254,136.76 254.5,136.74 255,136.71 255.5,136.69 256,136.65 256.5,136.62 257,136.58 257.5,136.55 258,136.51 258.5,136.47 259,136.43 259.5,136.39 260,136.35 260.5,136.3 261,136.26 261.5,136.21 262,136.17 262.5,136.12 263,136.06 263.5,136.01 264,135.95 264.5,135.88 265,135.81 265.5,135.74 266,135.66 266.5,135.59 267,135.52 267.5,135.46 268,135.39 268.5,135.33 269,135.26 269.5,135.2 270,135.13 270.5,135.07 271,135 271.5,134.94 272,134.87 272.5,134.8 273,134.73 273.5,134.66 274,134.58 274.5,134.51 275,134.43 275.5,134.35 276,134.27 276.5,134.19 277,134.11 277.5,134.03 278,133.94 278.5,133.85 279,133.77 279.5,133.68 280,133.59 280.5,133.49 281,133.4 281.5,133.31 282,133.21 282.5,133.11 283,133.01 283.5,132.92 284,132.81 284.5,132.71 285,132.6 285.5,132.49 286,132.37 286.5,132.25 287,132.13 287.5,132.01 288,131.88 288.5,131.75 289,131.62 289.5,131.49 290,131.35 290.5,131.22 291,131.08 291.5,130.94 292,130.8 292.5,130.66 293,130.52 293.5,130.37 294,130.23 294.5,130.08 295,129.94 295.5,129.79 296,129.64 296.5,129.49 297,129.34 297.5,129.19 298,129.04 298.5,128.89 299,128.74 299.5,128.58 300,128.43 300.5,128.29 301,128.14 301.5,128" stroke="#6a34a8"/>
<path d="M62.5,295.3 63,295.28 63.5,295.26 64,295.24 64.5,295.23 65,295.21 65.5,295.19 66,295.17 66.5,295.16 67,295.14 67.5,295.12 68,295.09 68.5,295.07 69,295.05 69.5,295.02 70,294.99 70.5,294.96 71,294.92 71.5,294.88 72,294.82 72.5,294.77 73,294.71 73.5,294.65 74,294.59 74.5,294.52 75,294.45 75.5,294.36 76,294.26 76.5,294.13 77,293.99 77.5,293.8 78,293.57 78.5,293.3 79,292.95 79.5,292.52 80,291.94 80.5,291.18 81,290.25 81.5,289.1 82,287.59 82.5,285.72 83,283.62 83.5,281.28 84,278.6 84.5,275.87 85,273.25 85.5,270.72 86,268.2 86.5,265.69 87,263.21 87.5,260.75 88,258.28 88.5,255.74 89,253.26 89.5,250.98 90,249 90.5,247.3 91,245.78 91.5,244.39 92,243.08 92.5,241.8 93,240.53 93.5,239.29 94,238.15 94.5,237.04 95,235.93 95.5,234.78 96,233.55 96.5,232.22 97,230.82 97.5,229.37 98,227.87 98.5,226.34 99,224.8 99.5,223.23 100,221.64 100.5,220.03 101,218.41 101.5,216.78 102,215.14 102.5,213.52 103,211.91 103.5,210.3 104,208.69 104.5,207.07 105,205.42 105.5,203.73 106,202 106.5,200.23 107,198.45 107.5,196.64 108,194.82 108.5,192.98 109,191.12 109.5,189.25 110,187.36 110.5,185.44 111,183.5 111.5,181.52 112,179.5 112.5,177.44 113,175.34 113.5,173.21 114,171.07 114.5,168.91 115,166.75 115.5,164.57 116,162.34 116.5,160.08 117,157.81 117.5,155.55 118,153.33 118.5,151.17 119,149.1 119.5,147.1 120,145.17 120.5,143.3 121,141.46 121.5,139.63 122,137.64 122.5,135.59 123,133.71 123.5,132.17 124,131 124.5,130.17 125,129.27 125.5,128.55 126,127.91 126.5,127.31 127,126.76 127.5,126.23 128,125.71 128.5,125.23 129,124.83 129.5,124.5 130,124.26 130.5,124.09 131,123.98 131.5,123.9 132,123.85 132.5,123.84 133,123.81 133.5,123.8 134,123.86 134.5,123.98 135,124.15 135.5,124.36 136,124.59 136.5,124.82 137,125.06 137.5,125.32 138,125.59 138.5,125.88 139,126.19 139.5,126.51 140,126.83 140.5,127.16 141,127.5 141.5,127.84 142,128.18 142.5,128.51 143,128.84 143.5,129.18 144,129.53 144.5,129.86 145,130.13 145.5,130.37 146,130.58 146.5,130.77 147,130.93 147.5,131.08 148,131.23 148.5,131.38 149,131.53 149.5,131.68 150,131.83 150.5,132.02 151,132.21 151.5,132.4 152,132.58 152.5,132.75 153,132.92 153.5,133.09 154,133.25 154.5,133.4 155,133.55 155.5,133.7 156,133.84 156.5,133.99 157,134.13 157.5,134.27 158,134.42 158.5,134.56 159,134.72 159.5,134.89 160,135.06 160.5,135.24 161,135.4 161.5,135.56 162,135.7 162.5,135.83 163,135.94 163.5,136.03 164,136.11 164.5,136.17 165,136.22 165.5,136.26 166,136.31 166.5,136.35 167,136.4 167.5,136.46 168,136.53 168.5,136.61 169,136.72 169.5,136.85 170,136.99 170.5,137.16 171,137.35 171.5,137.57 172,137.81 172.5,138.06 173,138.32 173.5,138.58 174,138.85 174.5,139.11 175,139.37 175.5,139.64 176,139.9 176.5,140.15 177,140.4 177.5,140.64 178,140.86 178.5,141.06 179,141.24 179.5,141.4 180,141.53 180.5,141.63 181,141.7 181.5,141.73 182,141.72 182.5,141.66 183,141.56 183.5,141.43 184,141.26 184.5,141.05 185,140.82 185.5,140.57 186,140.31 186.5,140.04 187,139.77 187.5,139.5 188,139.24 188.5,138.99 189,138.76 189.5,138.54 190,138.36 190.5,138.18 191,138 191.5,137.81 192,137.61 192.5,137.42 193,137.22 193.5,137.03 194,136.84 194.5,136.65 195,136.48 195.5,136.31 196,136.15 196.5,136 197,135.85 197.5,135.71 198,135.58 198.5,135.46 199,135.35 199.5,135.24 200,135.14 200.5,135.05 201,134.96 201.5,134.88 202,134.81 202.5,134.74 203,134.67 203.5,134.61 204,134.55 204.5,134.49 205,134.43 205.5,134.37 206,134.32 206.5,134.26 207,134.2 207.5,134.14 208,134.08 208.5,134.02 209,133.95 209.5,133.88 210,133.81 210.5,133.74 211,133.67 211.5,133.61 212,133.55 212.5,133.5 213,133.45 213.5,133.42 214,133.39 214.5,133.38 215,133.37 215.5,133.38 216,133.39 216.5,133.4 217,133.43 217.5,133.45 218,133.49 218.5,133.52 219,133.56 219.5,133.6 220,133.64 220.5,133.68 221,133.73 221.5,133.79 222,133.86 222.5,133.93 223,133.99 223.5,134.06 224,134.13 224.5,134.19 225,134.25 225.5,134.3 226,134.35 226.5,134.39 227,134.43 227.5,134.46 228,134.5 228.5,134.53 229,134.57 229.5,134.6 230,134.64 230.5,134.69 231,134.74 231.5,134.8 232,134.86 232.5,134.93 233,135.01 233.5,135.1 234,135.19 234.5,135.28 235,135.38 235.5,135.46 236,135.53 236.5,135.61 237,135.69 237.5,135.78 238,135.86 238.5,135.95 239,136.04 239.5,136.13 240,136.22 240.5,136.31 241,136.4 241.5,136.48 242,136.56 242.5,136.63 243,136.7 243.5,136.77 244,136.82 244.5,136.87 245,136.92 245.5,136.96 246,137 246.5,137.04 247,137.08 247.5,137.13 248,137.17 248.5,137.2 249,137.24 249.5,137.27 250,137.3 250.5,137.32 251,137.35 251.5,137.37 252,137.38 252.5,137.4 253,137.41 253.5,137.42 254,137.42 254.5,137.43 255,137.42 255.5,137.42 256,137.41 256.5,137.4 257,137.38 257.5,137.36 258,137.34 258.5,137.32 259,137.29 259.5,137.26 260,137.23 260.5,137.2 261,137.16 261.5,137.13 262,137.08 262.5,137.04 263,136.99 263.5,136.93 264,136.88 264.5,136.82 265,136.75 265.5,136.68 266,136.61 266.5,136.54 267,136.47 267.5,136.4 268,136.33 268.5,136.26 269,136.18 269.5,136.11 270,136.03 270.5,135.96 271,135.88 271.5,135.8 272,135.72 272.5,135.64 273,135.55 273.5,135.47 274,135.38 274.5,135.29 275,135.2 275.5,135.11 276,135.02 276.5,134.92 277,134.83 277.5,134.73 278,134.63 278.5,134.53 279,134.43 279.5,134.32 280,134.22 280.5,134.12 281,134.01 281.5,133.9 282,133.79 282.5,133.68 283,133.57 283.5,133.46 284,133.34 284.5,133.22 285,133.1 285.5,132.97 286,132.84 286.5,132.71 287,132.57 287.5,132.44 288,132.3 288.5,132.15 289,132.01 289.5,131.86 290,131.71 290.5,131.56 291,131.41 291.5,131.25 292,131.1 292.5,130.94 293,130.78 293.5,130.62 294,130.46 294.5,130.3 295,130.14 295.5,129.97 296,129.81 296.5,129.64 297,129.48 297.5,129.31 298,129.14 298.5,128.98 299,128.81 299.5,128.65 300,128.48 300.5,128.32 301,128.16 301.5,128" stroke="#9858bc"/>
<path d="M62.5,295.3 63,295.28 63.5,295.26 64,295.24 64.5,295.22 65,295.2 65.5,295.19 66,295.17 66.5,295.15 67,295.13 67.5,295.1 68,295.08 68.5,295.06 69,295.03 69.5,295 70,294.97 70.5,294.94 71,294.9 71.5,294.85 72,294.8 72.5,294.74 73,294.68 73.5,294.62 74,294.56 74.5,294.49 75,294.41 75.5,294.32 76,294.21 76.5,294.08 77,293.93 77.5,293.74 78,293.5 78.5,293.21 79,292.85 79.5,292.39 80,291.78 80.5,290.98 81,290 81.5,288.79 82,287.2 82.5,285.21 83,283 83.5,280.53 84,277.72 84.5,274.81 85,272 85.5,269.28 86,266.55 86.5,263.85 87,261.16 87.5,258.52 88,255.86 88.5,253.09 89,250.41 89.5,248.01 90,246 90.5,244.36 91,242.98 91.5,241.76 92,240.64 92.5,239.57 93,238.5 93.5,237.49 94,236.59 94.5,235.75 95,234.91 95.5,234.01 96,233 96.5,231.86 97,230.64 97.5,229.33 98,227.97 98.5,226.57 99,225.14 99.5,223.68 100,222.19 100.5,220.67 101,219.13 101.5,217.57 102,216 102.5,214.43 103,212.87 103.5,211.31 104,209.72 104.5,208.11 105,206.45 105.5,204.75 106,203 106.5,201.2 107,199.38 107.5,197.52 108,195.65 108.5,193.75 109,191.84 109.5,189.91 110,187.96 110.5,185.99 111,184 111.5,181.98 112,179.92 112.5,177.82 113,175.69 113.5,173.53 114,171.36 114.5,169.18 115,167 115.5,164.81 116,162.57 116.5,160.32 117,158.06 117.5,155.81 118,153.59 118.5,151.42 119,149.33 119.5,147.29 120,145.31 120.5,143.38 121,141.49 121.5,139.62 122,137.62 122.5,135.56 123,133.68 123.5,132.16 124,131 124.5,130.13 125,129.42 125.5,128.85 126,128.36 126.5,127.95 127,127.6 127.5,127.28 128,127 128.5,126.76 129,126.58 129.5,126.44 130,126.34 130.5,126.28 131,126.24 131.5,126.23 132,126.24 132.5,126.28 133,126.34 133.5,126.46 134,126.63 134.5,126.83 135,127.07 135.5,127.32 136,127.56 136.5,127.79 137,128 137.5,128.2 138,128.4 138.5,128.61 139,128.81 139.5,129.02 140,129.22 140.5,129.42 141,129.62 141.5,129.82 142,130.01 142.5,130.2 143,130.39 143.5,130.57 144,130.76 144.5,130.94 145,131.12 145.5,131.3 146,131.48 146.5,131.66 147,131.84 147.5,132.02 148,132.19 148.5,132.36 149,132.53 149.5,132.7 150,132.87 150.5,133.03 151,133.19 151.5,133.35 152,133.5 152.5,133.65 153,133.79 153.5,133.92 154,134.05 154.5,134.17 155,134.29 155.5,134.4 156,134.52 156.5,134.63 157,134.75 157.5,134.86 158,134.98 158.5,135.11 159,135.23 159.5,135.36 160,135.5 160.5,135.64 161,135.78 161.5,135.93 162,136.08 162.5,136.23 163,136.38 163.5,136.53 164,136.69 164.5,136.84 165,137 165.5,137.15 166,137.3 166.5,137.46 167,137.61 167.5,137.76 168,137.91 168.5,138.06 169,138.21 169.5,138.36 170,138.5 170.5,138.65 171,138.82 171.5,138.99 172,139.17 172.5,139.36 173,139.56 173.5,139.75 174,139.94 174.5,140.14 175,140.33 175.5,140.51 176,140.68 176.5,140.85 177,141 177.5,141.14 178,141.27 178.5,141.37 179,141.46 179.5,141.51 180,141.54 180.5,141.54 181,141.5 181.5,141.41 182,141.28 182.5,141.1 183,140.88 183.5,140.61 184,140.31 184.5,139.98 185,139.62 185.5,139.24 186,138.84 186.5,138.44 187,138.04 187.5,137.64 188,137.26 188.5,136.9 189,136.57 189.5,136.27 190,136 190.5,135.75 191,135.49 191.5,135.24 192,134.98 192.5,134.73 193,134.48 193.5,134.24 194,134 194.5,133.77 195,133.56 195.5,133.35 196,133.15 196.5,132.97 197,132.8 197.5,132.63 198,132.49 198.5,132.35 199,132.22 199.5,132.11 200,132 200.5,131.9 201,131.82 201.5,131.73 202,131.66 202.5,131.59 203,131.53 203.5,131.47 204,131.41 204.5,131.36 205,131.31 205.5,131.27 206,131.23 206.5,131.19 207,131.16 207.5,131.13 208,131.1 208.5,131.08 209,131.06 209.5,131.04 210,131.02 210.5,131.01 211,131 211.5,130.99 212,130.98 212.5,130.98 213,130.98 213.5,130.98 214,130.99 214.5,130.99 215,131 215.5,131.01 216,131.03 216.5,131.04 217,131.06 217.5,131.08 218,131.11 218.5,131.14 219,131.17 219.5,131.2 220,131.24 220.5,131.28 221,131.32 221.5,131.36 222,131.41 222.5,131.46 223,131.52 223.5,131.57 224,131.63 224.5,131.7 225,131.76 225.5,131.83 226,131.9 226.5,131.98 227,132.06 227.5,132.14 228,132.23 228.5,132.31 229,132.41 229.5,132.5 230,132.6 230.5,132.71 231,132.82 231.5,132.94 232,133.08 232.5,133.22 233,133.37 233.5,133.52 234,133.68 234.5,133.84 235,134.01 235.5,134.18 236,134.36 236.5,134.53 237,134.71 237.5,134.88 238,135.06 238.5,135.23 239,135.4 239.5,135.57 240,135.73 240.5,135.89 241,136.04 241.5,136.19 242,136.33 242.5,136.46 243,136.59 243.5,136.7 244,136.81 244.5,136.91 245,137 245.5,137.08 246,137.17 246.5,137.24 247,137.32 247.5,137.4 248,137.47 248.5,137.54 249,137.61 249.5,137.67 250,137.73 250.5,137.79 251,137.84 251.5,137.89 252,137.94 252.5,137.98 253,138.02 253.5,138.05 254,138.08 254.5,138.11 255,138.13 255.5,138.15 256,138.16 256.5,138.17 257,138.18 257.5,138.18 258,138.18 258.5,138.17 259,138.16 259.5,138.14 260,138.12 260.5,138.1 261,138.07 261.5,138.04 262,138 262.5,137.96 263,137.91 263.5,137.86 264,137.81 264.5,137.75 265,137.69 265.5,137.63 266,137.56 266.5,137.49 267,137.42 267.5,137.34 268,137.27 268.5,137.19 269,137.1 269.5,137.02 270,136.93 270.5,136.85 271,136.76 271.5,136.66 272,136.57 272.5,136.47 273,136.38 273.5,136.28 274,136.18 274.5,136.07 275,135.97 275.5,135.87 276,135.76 276.5,135.65 277,135.54 277.5,135.43 278,135.32 278.5,135.2 279,135.09 279.5,134.97 280,134.86 280.5,134.74 281,134.62 281.5,134.5 282,134.37 282.5,134.25 283,134.13 283.5,134 284,133.87 284.5,133.74 285,133.6 285.5,133.46 286,133.32 286.5,133.17 287,133.02 287.5,132.87 288,132.71 288.5,132.55 289,132.39 289.5,132.23 290,132.07 290.5,131.9 291,131.73 291.5,131.56 292,131.39 292.5,131.22 293,131.05 293.5,130.87 294,130.69 294.5,130.52 295,130.34 295.5,130.16 296,129.98 296.5,129.8 297,129.62 297.5,129.43 298,129.25 298.5,129.07 299,128.89 299.5,128.71 300,128.53 300.5,128.35 301,128.17 301.5,128" stroke="#c088d4"/>
<path d="M117.12,159.07 117.33,158.46 117.55,157.85 117.77,157.25 117.99,156.66 118.21,156.07 118.43,155.49 118.65,154.92 118.87,154.37 119.08,153.82 119.3,153.29 119.52,152.78 119.74,152.27 119.95,151.79 120.17,151.32 120.38,150.88 120.59,150.45 120.79,150.04 120.99,149.66 121.2,149.3 121.39,148.96 121.58,148.65 121.77,148.37 121.96,148.11 122.14,147.88 122.31,147.69 122.64,147.41 123.08,147.27 123.5,147.41 123.88,147.77 124.25,148.29 124.6,148.89 124.95,149.53 125.29,150.13 125.64,150.64 126,151 126.49,151.35 126.98,151.7 127.46,152.01 127.94,152.27 128.42,152.45 128.91,152.54 129.4,152.5 129.78,152.38 130.15,152.21 130.52,151.97 130.89,151.68 131.27,151.33 131.66,150.94 132.08,150.5 132.52,150.02 133,149.5 133.27,149.2 133.54,148.86 133.82,148.5 134.11,148.12 134.4,147.71 134.7,147.29 135.01,146.86 135.32,146.42 135.63,145.98 135.96,145.54 136.29,145.1 136.62,144.67 136.97,144.26 137.32,143.86 137.67,143.48 138.03,143.12 138.4,142.8 138.8,142.47 139.22,142.13 139.65,141.79 140.09,141.45 140.53,141.12 140.99,140.8 141.45,140.49 141.92,140.2 142.39,139.93 142.86,139.69 143.33,139.48 143.79,139.3 144.26,139.16 144.71,139.06 145.16,139 145.6,139 146.03,139.06 146.45,139.18 146.86,139.36 147.27,139.58 147.67,139.85 148.07,140.16 148.46,140.49 148.86,140.84 149.26,141.21 149.67,141.58 150.08,141.95 150.5,142.31 150.93,142.65 151.38,142.97 151.83,143.25 152.3,143.5 152.73,143.7 153.16,143.89 153.6,144.07 154.04,144.26 154.49,144.43 154.94,144.6 155.4,144.76 155.87,144.92 156.34,145.08 156.82,145.22 157.31,145.36 157.8,145.5 158.3,145.63 158.8,145.76 159.32,145.88 159.84,145.99 160.36,146.1 160.9,146.2 161.36,146.29 161.83,146.38 162.32,146.48 162.81,146.58 163.31,146.68 163.83,146.78 164.35,146.88 164.87,146.98 165.4,147.07 165.93,147.15 166.46,147.23 166.99,147.3 167.51,147.35 168.04,147.39 168.56,147.42 169.07,147.42 169.57,147.41 170.07,147.38 170.55,147.33 171.02,147.26 171.48,147.16 171.93,147.03 172.38,146.87 172.82,146.69 173.25,146.48 173.68,146.25 174.09,146 174.5,145.73 174.9,145.44 175.29,145.14 175.68,144.82 176.06,144.49 176.45,144.15 176.83,143.8 177.21,143.43 177.59,143.07 177.97,142.69 178.35,142.32 178.73,141.94 179.12,141.56 179.51,141.18 179.9,140.8 180.24,140.47 180.57,140.13 180.9,139.78 181.22,139.42 181.55,139.05 181.87,138.68 182.19,138.29 182.5,137.9 182.82,137.51 183.14,137.11 183.46,136.71 183.78,136.31 184.1,135.9 184.43,135.5 184.76,135.1 185.1,134.7 185.44,134.3 185.78,133.91 186.13,133.52 186.49,133.14 186.85,132.77 187.23,132.4 187.61,132.05 188,131.7 188.37,131.38 188.75,131.05 189.13,130.72 189.52,130.38 189.92,130.03 190.33,129.69 190.74,129.34 191.15,128.99 191.57,128.64 191.99,128.3 192.42,127.96 192.85,127.63 193.28,127.31 193.72,126.99 194.15,126.69 194.59,126.4 195.02,126.12 195.46,125.86 195.9,125.61 196.33,125.39 196.77,125.18 197.2,124.99 197.63,124.83 198.06,124.69 198.48,124.58 198.9,124.5 199.38,124.44 199.86,124.4 200.33,124.4 200.81,124.42 201.28,124.47 201.75,124.55 202.22,124.65 202.69,124.77 203.16,124.91 203.62,125.07 204.09,125.25 204.57,125.44 205.04,125.65 205.51,125.87 205.99,126.11 206.47,126.35 206.96,126.61 207.45,126.87 207.94,127.14 208.43,127.41 208.94,127.68 209.44,127.96 209.89,128.21 210.28,128.43 210.68,128.66 211.08,128.91 211.49,129.16 211.89,129.43 212.31,129.7 212.72,129.99 213.14,130.28 213.56,130.57 213.99,130.88 214.41,131.19 214.84,131.5 215.26,131.82 215.69,132.14 216.11,132.47 216.54,132.8 216.96,133.12 217.38,133.45 217.81,133.78 218.22,134.1 218.64,134.43 219.05,134.75 219.46,135.07 219.87,135.38 220.27,135.69 220.66,135.99 221.05,136.29 221.44,136.58 221.81,136.86 222.22,137.16 222.66,137.5 223.1,137.83 223.54,138.17 223.97,138.51 224.39,138.85 224.81,139.19 225.23,139.53 225.65,139.87 226.06,140.21 226.46,140.54 226.87,140.87 227.27,141.19 227.67,141.51 228.06,141.82 228.45,142.13 228.84,142.43 229.22,142.71 229.6,142.99 229.98,143.26 230.35,143.51 230.72,143.76 231.09,143.99 231.46,144.2 231.82,144.41 232.28,144.64 232.83,144.89 233.36,145.11 233.88,145.29 234.4,145.45 234.9,145.58 235.39,145.69 235.88,145.78 236.37,145.86 236.85,145.93 237.33,145.98 237.81,146.04 238.29,146.09 238.77,146.14 239.26,146.2 239.75,146.26 240.25,146.34 240.72,146.42 241.18,146.51 241.63,146.6 242.06,146.69 242.49,146.77 242.93,146.85 243.36,146.93 243.81,146.99 244.28,147.05 244.76,147.09 245.27,147.12 245.81,147.13 246.38,147.12 247,147.09 247.65,147.04 248.19,146.98 248.58,146.93 248.98,146.88 249.39,146.83 249.8,146.78 250.23,146.72 250.66,146.65 251.09,146.59 251.54,146.51 251.99,146.44 252.45,146.36 252.92,146.27 253.4,146.18 253.88,146.09 254.37,145.99 254.87,145.88 255.37,145.77 255.89,145.66 256.41,145.54 256.93,145.41 257.47,145.28 258.01,145.14 258.56,145 259.12,144.84 259.68,144.69 260.25,144.52 260.83,144.35 261.41,144.18 262,143.99 262.6,143.8 263,143.67 263.41,143.53 263.83,143.39 264.25,143.24 264.69,143.09 265.12,142.93 265.57,142.77 266.01,142.6 266.47,142.43 266.93,142.26 267.39,142.08 267.86,141.9 268.33,141.72 268.81,141.53 269.29,141.34 269.77,141.15 270.26,140.96 270.74,140.76 271.23,140.56 271.73,140.36 272.22,140.16 272.71,139.96 273.21,139.75 273.71,139.55 274.2,139.34 274.7,139.14 275.2,138.93 275.69,138.72 276.19,138.52 276.68,138.31 277.17,138.11 277.66,137.9 278.15,137.7 278.63,137.5 279.12,137.3 279.6,137.1 280.07,136.9 280.54,136.71 281.01,136.51 281.48,136.32 281.94,136.13 282.39,135.95 282.84,135.77 283.28,135.59 283.75,135.4 284.27,135.19 284.79,134.98 285.31,134.77 285.84,134.56 286.38,134.34 286.92,134.12 287.46,133.9 288.01,133.68 288.56,133.46 289.11,133.24 289.65,133.02 290.2,132.8 290.74,132.57 291.29,132.35 291.83,132.14 292.36,131.92 292.89,131.7 293.42,131.49 293.94,131.28 294.45,131.07 294.95,130.87 295.44,130.67 295.93,130.47 296.4,130.27 296.86,130.09 297.32,129.9 297.75,129.72 298.18,129.55 298.59,129.38 298.98,129.22 299.36,129.07 299.72,128.92 300.07,128.78 300.39,128.65 300.7,128.52 300.99,128.41 301.26,128.3 301.5,128.2 301.5,128.2" stroke="#1a1a1a" stroke-width="1"/>
</g>
<g stroke="#000" fill="none" stroke-linecap="butt">
<line x1="128.8" y1="41.4" x2="134.4" y2="140.5" stroke-width="3.2" stroke="#fff"/>
<line x1="128.8" y1="41.4" x2="134.4" y2="140.5" stroke-width="1.4"/>
<polyline points="130.6,134.8 134.5,140.8 138,134.6" stroke-width="1.9"/>
<line x1="116.6" y1="279.4" x2="82.6" y2="219.4" stroke-width="1.2"/>
<polyline points="82.6,226.6 82.3,218.8 89,222.6" stroke-width="1.7"/>
</g>
<g stroke="#333" stroke-width="1" fill="none">
<path d="M62.5,24.5 H301.5 V295.5 H62.5 Z"/>
<line x1="58.5" y1="295.5" x2="62.5" y2="295.5"/>
<line x1="60" y1="287.03" x2="62.5" y2="287.03"/>
<line x1="60" y1="278.56" x2="62.5" y2="278.56"/>
<line x1="60" y1="270.09" x2="62.5" y2="270.09"/>
<line x1="58.5" y1="261.62" x2="62.5" y2="261.62"/>
<line x1="60" y1="253.16" x2="62.5" y2="253.16"/>
<line x1="60" y1="244.69" x2="62.5" y2="244.69"/>
<line x1="60" y1="236.22" x2="62.5" y2="236.22"/>
<line x1="58.5" y1="227.75" x2="62.5" y2="227.75"/>
<line x1="60" y1="219.28" x2="62.5" y2="219.28"/>
<line x1="60" y1="210.81" x2="62.5" y2="210.81"/>
<line x1="60" y1="202.34" x2="62.5" y2="202.34"/>
<line x1="58.5" y1="193.88" x2="62.5" y2="193.88"/>
<line x1="60" y1="185.41" x2="62.5" y2="185.41"/>
<line x1="60" y1="176.94" x2="62.5" y2="176.94"/>
<line x1="60" y1="168.47" x2="62.5" y2="168.47"/>
<line x1="58.5" y1="160" x2="62.5" y2="160"/>
<line x1="60" y1="151.53" x2="62.5" y2="151.53"/>
<line x1="60" y1="143.06" x2="62.5" y2="143.06"/>
<line x1="60" y1="134.59" x2="62.5" y2="134.59"/>
<line x1="58.5" y1="126.12" x2="62.5" y2="126.12"/>
<line x1="60" y1="117.66" x2="62.5" y2="117.66"/>
<line x1="60" y1="109.19" x2="62.5" y2="109.19"/>
<line x1="60" y1="100.72" x2="62.5" y2="100.72"/>
<line x1="58.5" y1="92.25" x2="62.5" y2="92.25"/>
<line x1="60" y1="83.78" x2="62.5" y2="83.78"/>
<line x1="60" y1="75.31" x2="62.5" y2="75.31"/>
<line x1="60" y1="66.84" x2="62.5" y2="66.84"/>
<line x1="58.5" y1="58.38" x2="62.5" y2="58.38"/>
<line x1="60" y1="49.91" x2="62.5" y2="49.91"/>
<line x1="60" y1="41.44" x2="62.5" y2="41.44"/>
<line x1="60" y1="32.97" x2="62.5" y2="32.97"/>
<line x1="58.5" y1="24.5" x2="62.5" y2="24.5"/>
<line x1="62.5" y1="295.5" x2="62.5" y2="299.5"/>
<line x1="74.45" y1="295.5" x2="74.45" y2="298"/>
<line x1="86.4" y1="295.5" x2="86.4" y2="298"/>
<line x1="98.35" y1="295.5" x2="98.35" y2="298"/>
<line x1="110.3" y1="295.5" x2="110.3" y2="299.5"/>
<line x1="122.25" y1="295.5" x2="122.25" y2="298"/>
<line x1="134.2" y1="295.5" x2="134.2" y2="298"/>
<line x1="146.15" y1="295.5" x2="146.15" y2="298"/>
<line x1="158.1" y1="295.5" x2="158.1" y2="299.5"/>
<line x1="170.05" y1="295.5" x2="170.05" y2="298"/>
<line x1="182" y1="295.5" x2="182" y2="298"/>
<line x1="193.95" y1="295.5" x2="193.95" y2="298"/>
<line x1="205.9" y1="295.5" x2="205.9" y2="299.5"/>
<line x1="217.85" y1="295.5" x2="217.85" y2="298"/>
<line x1="229.8" y1="295.5" x2="229.8" y2="298"/>
<line x1="241.75" y1="295.5" x2="241.75" y2="298"/>
<line x1="253.7" y1="295.5" x2="253.7" y2="299.5"/>
<line x1="265.65" y1="295.5" x2="265.65" y2="298"/>
<line x1="277.6" y1="295.5" x2="277.6" y2="298"/>
<line x1="289.55" y1="295.5" x2="289.55" y2="298"/>
<line x1="301.5" y1="295.5" x2="301.5" y2="299.5"/>
</g>
<g font-size="13.5" fill="#111">
<text x="51.5" y="300.1" text-anchor="end">0.0</text>
<text x="51.5" y="266.23" text-anchor="end">0.2</text>
<text x="51.5" y="232.35" text-anchor="end">0.4</text>
<text x="51.5" y="198.47" text-anchor="end">0.6</text>
<text x="51.5" y="164.6" text-anchor="end">0.8</text>
<text x="51.5" y="130.72" text-anchor="end">1.0</text>
<text x="51.5" y="96.85" text-anchor="end">1.2</text>
<text x="51.5" y="62.98" text-anchor="end">1.4</text>
<text x="51.5" y="29.1" text-anchor="end">1.6</text>
<text x="62.5" y="316.8" text-anchor="middle">7700</text>
<text x="110.3" y="316.8" text-anchor="middle">7720</text>
<text x="158.1" y="316.8" text-anchor="middle">7740</text>
<text x="205.9" y="316.8" text-anchor="middle">7760</text>
<text x="253.7" y="316.8" text-anchor="middle">7780</text>
<text x="301.5" y="316.8" text-anchor="middle">7800</text>
</g>
<text x="8" y="24.8" font-size="18" fill="#111">a.</text>
<text x="143.6" y="338.6" font-size="15" font-weight="bold" fill="#111">Energy / eV</text>
<text transform="translate(29,237) rotate(-90)" font-size="15" font-weight="bold" fill="#111" letter-spacing="0.1">Normalized Absorption</text>
<line x1="382.5" y1="21.3" x2="643" y2="267.8" stroke="#8a8a8a" stroke-width="2" stroke-dasharray="5.5,3.5"/>
<path d="M373.6,237 V249" stroke="#0b640b" stroke-width="2.6" fill="none"/>
<path d="M373.4,249 C373.83,248.5 374.9,246.83 376,246 C377.1,245.17 378.33,244.8 380,244 C381.67,243.2 383.83,242.03 386,241.2 C388.17,240.37 390.67,239.65 393,239 C395.33,238.35 397.5,237.8 400,237.3 C402.5,236.8 405.33,236.33 408,236 C410.67,235.67 412.67,235.47 416,235.3 C419.33,235.13 424,235.08 428,235 C432,234.92 433,234.87 440,234.8 C447,234.73 460,234.43 470,234.6 C480,234.77 490,235.18 500,235.8 C510,236.42 520,237.17 530,238.3 C540,239.43 550,240.77 560,242.6 C570,244.43 581.67,247.13 590,249.3 C598.33,251.47 604.17,253.48 610,255.6 C615.83,257.72 620.28,259.63 625,262 C629.72,264.37 636.08,268.5 638.3,269.8" stroke="#0b640b" stroke-width="3" fill="none" stroke-linecap="round"/>
<g stroke="#666" stroke-width="1" fill="none">
<line x1="372.5" y1="21.5" x2="372.5" y2="304.5" stroke="#8a8a8a" stroke-width="1.6"/>
<line x1="372.5" y1="304.5" x2="646.5" y2="304.5" stroke="#444"/>
<line x1="372.5" y1="21.5" x2="646.5" y2="21.5" stroke="#333" stroke-width="1.1"/>
<line x1="369" y1="21.5" x2="372.5" y2="21.5"/>
<line x1="370" y1="33.29" x2="372.5" y2="33.29"/>
<line x1="370" y1="45.08" x2="372.5" y2="45.08"/>
<line x1="370" y1="56.88" x2="372.5" y2="56.88"/>
<line x1="369" y1="68.67" x2="372.5" y2="68.67"/>
<line x1="370" y1="80.46" x2="372.5" y2="80.46"/>
<line x1="370" y1="92.25" x2="372.5" y2="92.25"/>
<line x1="370" y1="104.04" x2="372.5" y2="104.04"/>
<line x1="369" y1="115.83" x2="372.5" y2="115.83"/>
<line x1="370" y1="127.62" x2="372.5" y2="127.62"/>
<line x1="370" y1="139.42" x2="372.5" y2="139.42"/>
<line x1="370" y1="151.21" x2="372.5" y2="151.21"/>
<line x1="369" y1="163" x2="372.5" y2="163"/>
<line x1="370" y1="174.79" x2="372.5" y2="174.79"/>
<line x1="370" y1="186.58" x2="372.5" y2="186.58"/>
<line x1="370" y1="198.38" x2="372.5" y2="198.38"/>
<line x1="369" y1="210.17" x2="372.5" y2="210.17"/>
<line x1="370" y1="221.96" x2="372.5" y2="221.96"/>
<line x1="370" y1="233.75" x2="372.5" y2="233.75"/>
<line x1="370" y1="245.54" x2="372.5" y2="245.54"/>
<line x1="369" y1="257.33" x2="372.5" y2="257.33"/>
<line x1="370" y1="269.12" x2="372.5" y2="269.12"/>
<line x1="370" y1="280.92" x2="372.5" y2="280.92"/>
<line x1="370" y1="292.71" x2="372.5" y2="292.71"/>
<line x1="369" y1="304.5" x2="372.5" y2="304.5"/>
<line x1="372.5" y1="304.5" x2="372.5" y2="308"/>
<line x1="411.05" y1="304.5" x2="411.05" y2="308"/>
<line x1="449.6" y1="304.5" x2="449.6" y2="308"/>
<line x1="488.15" y1="304.5" x2="488.15" y2="308"/>
<line x1="526.7" y1="304.5" x2="526.7" y2="308"/>
<line x1="565.25" y1="304.5" x2="565.25" y2="308"/>
<line x1="603.8" y1="304.5" x2="603.8" y2="308"/>
<line x1="642.35" y1="304.5" x2="642.35" y2="308"/>
</g>
<g stroke="#5f8f5f" stroke-width="1" fill="none">
<line x1="646.5" y1="21.5" x2="646.5" y2="304.5"/>
<line x1="646.5" y1="21.5" x2="650" y2="21.5"/>
<line x1="646.5" y1="32.82" x2="649" y2="32.82"/>
<line x1="646.5" y1="44.14" x2="649" y2="44.14"/>
<line x1="646.5" y1="55.46" x2="649" y2="55.46"/>
<line x1="646.5" y1="66.78" x2="649" y2="66.78"/>
<line x1="646.5" y1="78.1" x2="650" y2="78.1"/>
<line x1="646.5" y1="89.42" x2="649" y2="89.42"/>
<line x1="646.5" y1="100.74" x2="649" y2="100.74"/>
<line x1="646.5" y1="112.06" x2="649" y2="112.06"/>
<line x1="646.5" y1="123.38" x2="649" y2="123.38"/>
<line x1="646.5" y1="134.7" x2="650" y2="134.7"/>
<line x1="646.5" y1="146.02" x2="649" y2="146.02"/>
<line x1="646.5" y1="157.34" x2="649" y2="157.34"/>
<line x1="646.5" y1="168.66" x2="649" y2="168.66"/>
<line x1="646.5" y1="179.98" x2="649" y2="179.98"/>
<line x1="646.5" y1="191.3" x2="650" y2="191.3"/>
<line x1="646.5" y1="202.62" x2="649" y2="202.62"/>
<line x1="646.5" y1="213.94" x2="649" y2="213.94"/>
<line x1="646.5" y1="225.26" x2="649" y2="225.26"/>
<line x1="646.5" y1="236.58" x2="649" y2="236.58"/>
<line x1="646.5" y1="247.9" x2="650" y2="247.9"/>
<line x1="646.5" y1="259.22" x2="649" y2="259.22"/>
<line x1="646.5" y1="270.54" x2="649" y2="270.54"/>
<line x1="646.5" y1="281.86" x2="649" y2="281.86"/>
<line x1="646.5" y1="293.18" x2="649" y2="293.18"/>
<line x1="646.5" y1="304.5" x2="650" y2="304.5"/>
</g>
<line x1="372.8" y1="79" x2="372.8" y2="249" stroke="#2d7d2d" stroke-width="1"/>
<path d="M372.6,21.7 C375.13,23.1 382.73,26.8 387.8,30.1 C392.87,33.4 397.93,37.52 403,41.5 C408.07,45.48 413.13,49.5 418.2,54 C423.27,58.5 428.33,63.85 433.4,68.5 C438.47,73.15 443.53,77.18 448.6,81.9 C453.67,86.62 458.73,91.78 463.8,96.8 C468.87,101.82 473.93,107.13 479,112 C484.07,116.87 489.13,121.12 494.2,126 C499.27,130.88 504.33,136.33 509.4,141.3 C514.47,146.27 519.53,151.02 524.6,155.8 C529.67,160.58 534.73,165.35 539.8,170 C544.87,174.65 549.93,179.88 555,183.7 C560.07,187.52 565.13,189.68 570.2,192.9 C575.27,196.12 580.33,200.03 585.4,203 C590.47,205.97 595.53,208.05 600.6,210.7 C605.67,213.35 610.73,216.6 615.8,218.9 C620.87,221.2 625.93,223.3 631,224.5 C636.07,225.7 643.67,225.83 646.2,226.1" stroke="#000" stroke-width="1.05" fill="none"/>
<path d="M372.6,258.7 C375.13,257.27 382.73,253.5 387.8,250.1 C392.87,246.7 397.93,242.42 403,238.3 C408.07,234.18 413.13,229.92 418.2,225.4 C423.27,220.88 428.33,215.83 433.4,211.2 C438.47,206.57 443.53,202.22 448.6,197.6 C453.67,192.98 458.73,188.38 463.8,183.5 C468.87,178.62 473.93,173.25 479,168.3 C484.07,163.35 489.13,158.63 494.2,153.8 C499.27,148.97 504.33,144.27 509.4,139.3 C514.47,134.33 519.53,128.88 524.6,124 C529.67,119.12 534.73,114.48 539.8,110 C544.87,105.52 549.93,100.95 555,97.1 C560.07,93.25 565.13,90.18 570.2,86.9 C575.27,83.62 580.33,80.37 585.4,77.4 C590.47,74.43 595.53,71.87 600.6,69.1 C605.67,66.33 610.73,62.95 615.8,60.8 C620.87,58.65 625.93,57.47 631,56.2 C636.07,54.93 643.67,53.7 646.2,53.2" stroke="#000" stroke-width="1" fill="none"/>
<g fill="#000">
<rect x="368.8" y="17.9" width="7.6" height="7.6"/>
<rect x="384" y="26.3" width="7.6" height="7.6"/>
<rect x="399.2" y="37.7" width="7.6" height="7.6"/>
<rect x="414.4" y="50.2" width="7.6" height="7.6"/>
<rect x="429.6" y="64.7" width="7.6" height="7.6"/>
<rect x="444.8" y="78.1" width="7.6" height="7.6"/>
<rect x="460" y="93" width="7.6" height="7.6"/>
<rect x="475.2" y="108.2" width="7.6" height="7.6"/>
<rect x="490.4" y="122.2" width="7.6" height="7.6"/>
<rect x="505.6" y="137.5" width="7.6" height="7.6"/>
<rect x="520.8" y="152" width="7.6" height="7.6"/>
<rect x="536" y="166.2" width="7.6" height="7.6"/>
<rect x="551.2" y="179.9" width="7.6" height="7.6"/>
<rect x="566.4" y="189.1" width="7.6" height="7.6"/>
<rect x="581.6" y="199.2" width="7.6" height="7.6"/>
<rect x="596.8" y="206.9" width="7.6" height="7.6"/>
<rect x="612" y="215.1" width="7.6" height="7.6"/>
<rect x="627.2" y="220.7" width="7.6" height="7.6"/>
<rect x="642.4" y="222.3" width="7.6" height="7.6"/>
</g>
<g stroke="#000" stroke-width="1" fill="#000">
<path d="M372.6,253.1 V264.3 M370,253.1 H375.2 M370,264.3 H375.2" fill="none"/>
<path d="M372.6,253.5 L376,261.3 L369.2,261.3 Z" stroke="none"/>
<path d="M387.8,244.39 V255.81 M385.2,244.39 H390.4 M385.2,255.81 H390.4" fill="none"/>
<path d="M387.8,244.9 L391.2,252.7 L384.4,252.7 Z" stroke="none"/>
<path d="M403,232.48 V244.12 M400.4,232.48 H405.6 M400.4,244.12 H405.6" fill="none"/>
<path d="M403,233.1 L406.4,240.9 L399.6,240.9 Z" stroke="none"/>
<path d="M418.2,219.47 V231.33 M415.6,219.47 H420.8 M415.6,231.33 H420.8" fill="none"/>
<path d="M418.2,220.2 L421.6,228 L414.8,228 Z" stroke="none"/>
<path d="M433.4,205.16 V217.24 M430.8,205.16 H436 M430.8,217.24 H436" fill="none"/>
<path d="M433.4,206 L436.8,213.8 L430,213.8 Z" stroke="none"/>
<path d="M448.6,191.44 V203.76 M446,191.44 H451.2 M446,203.76 H451.2" fill="none"/>
<path d="M448.6,192.4 L452,200.2 L445.2,200.2 Z" stroke="none"/>
<path d="M463.8,177.23 V189.77 M461.2,177.23 H466.4 M461.2,189.77 H466.4" fill="none"/>
<path d="M463.8,178.3 L467.2,186.1 L460.4,186.1 Z" stroke="none"/>
<path d="M479,161.92 V174.68 M476.4,161.92 H481.6 M476.4,174.68 H481.6" fill="none"/>
<path d="M479,163.1 L482.4,170.9 L475.6,170.9 Z" stroke="none"/>
<path d="M494.2,147.31 V160.29 M491.6,147.31 H496.8 M491.6,160.29 H496.8" fill="none"/>
<path d="M494.2,148.6 L497.6,156.4 L490.8,156.4 Z" stroke="none"/>
<path d="M509.4,132.7 V145.9 M506.8,132.7 H512 M506.8,145.9 H512" fill="none"/>
<path d="M509.4,134.1 L512.8,141.9 L506,141.9 Z" stroke="none"/>
<path d="M524.6,117.29 V130.71 M522,117.29 H527.2 M522,130.71 H527.2" fill="none"/>
<path d="M524.6,118.8 L528,126.6 L521.2,126.6 Z" stroke="none"/>
<path d="M539.8,103.18 V116.82 M537.2,103.18 H542.4 M537.2,116.82 H542.4" fill="none"/>
<path d="M539.8,104.8 L543.2,112.6 L536.4,112.6 Z" stroke="none"/>
<path d="M555,90.17 V104.03 M552.4,90.17 H557.6 M552.4,104.03 H557.6" fill="none"/>
<path d="M555,91.9 L558.4,99.7 L551.6,99.7 Z" stroke="none"/>
<path d="M570.2,79.86 V93.94 M567.6,79.86 H572.8 M567.6,93.94 H572.8" fill="none"/>
<path d="M570.2,81.7 L573.6,89.5 L566.8,89.5 Z" stroke="none"/>
<path d="M585.4,70.24 V84.56 M582.8,70.24 H588 M582.8,84.56 H588" fill="none"/>
<path d="M585.4,72.2 L588.8,80 L582,80 Z" stroke="none"/>
<path d="M600.6,61.83 V76.37 M598,61.83 H603.2 M598,76.37 H603.2" fill="none"/>
<path d="M600.6,63.9 L604,71.7 L597.2,71.7 Z" stroke="none"/>
<path d="M615.8,53.42 V68.18 M613.2,53.42 H618.4 M613.2,68.18 H618.4" fill="none"/>
<path d="M615.8,55.6 L619.2,63.4 L612.4,63.4 Z" stroke="none"/>
<path d="M631,48.71 V63.69 M628.4,48.71 H633.6 M628.4,63.69 H633.6" fill="none"/>
<path d="M631,51 L634.4,58.8 L627.6,58.8 Z" stroke="none"/>
<path d="M646.2,45.6 V60.8 M643.6,45.6 H648.8 M643.6,60.8 H648.8" fill="none"/>
<path d="M646.2,48 L649.6,55.8 L642.8,55.8 Z" stroke="none"/>
</g>
<g font-size="13.5" fill="#111">
<text x="361" y="27.1" text-anchor="end">100%</text>
<text x="361" y="74.27" text-anchor="end">80%</text>
<text x="361" y="121.43" text-anchor="end">60%</text>
<text x="361" y="168.6" text-anchor="end">40%</text>
<text x="361" y="215.77" text-anchor="end">20%</text>
<text x="361" y="262.93" text-anchor="end">0%</text>
<text x="361" y="310.1" text-anchor="end">-20%</text>
<text x="372.5" y="325.8" text-anchor="middle">0</text>
<text x="411.05" y="325.8" text-anchor="middle">100</text>
<text x="449.6" y="325.8" text-anchor="middle">200</text>
<text x="488.15" y="325.8" text-anchor="middle">300</text>
<text x="526.7" y="325.8" text-anchor="middle">400</text>
<text x="565.25" y="325.8" text-anchor="middle">500</text>
<text x="603.8" y="325.8" text-anchor="middle">600</text>
<text x="642.35" y="325.8" text-anchor="middle">700</text>
</g>
<g font-size="13.5" fill="#3a733a">
<text x="658" y="26.1">3.0</text>
<text x="658" y="82.7">2.5</text>
<text x="658" y="139.3">2.0</text>
<text x="658" y="195.9">1.5</text>
<text x="658" y="252.5">1.0</text>
<text x="658" y="309.1">0.5</text>
</g>
<text x="315.5" y="24.5" font-size="18" fill="#111">b.</text>
<text x="448.3" y="343.3" font-size="15" font-weight="bold" fill="#111" letter-spacing="0.15">Capacity / mAh g<tspan font-size="9.5" dy="-6.5">-1</tspan></text>
<text transform="translate(326,252.9) rotate(-90)" font-size="15" font-weight="bold" fill="#111" letter-spacing="0.33">Linear Combination Fitting</text>
<text transform="translate(688,204.2) rotate(-90)" font-size="15" font-weight="bold" fill="#197519" >Potential / V</text>
<line x1="454.2" y1="32.2" x2="475.9" y2="32.2" stroke="#0b640b" stroke-width="3"/>
<line x1="456.4" y1="52.4" x2="474.7" y2="52.4" stroke="#000" stroke-width="1"/>
<rect x="462" y="49.4" width="6.4" height="6" fill="#000"/>
<line x1="456.4" y1="71.8" x2="474.7" y2="71.8" stroke="#000" stroke-width="1"/>
<path d="M465,69 L468.6,75.8 L461.4,75.8 Z" fill="#000"/>
<g font-size="13.4" fill="#111">
<text x="483.4" y="39.5">Electrochemistry</text>
<text x="483.4" y="55.4">LiCoO<tspan font-size="9" dy="3">2</tspan></text>
<text x="483.4" y="74.3">Co metal</text>
</g>
</svg></body></html>
